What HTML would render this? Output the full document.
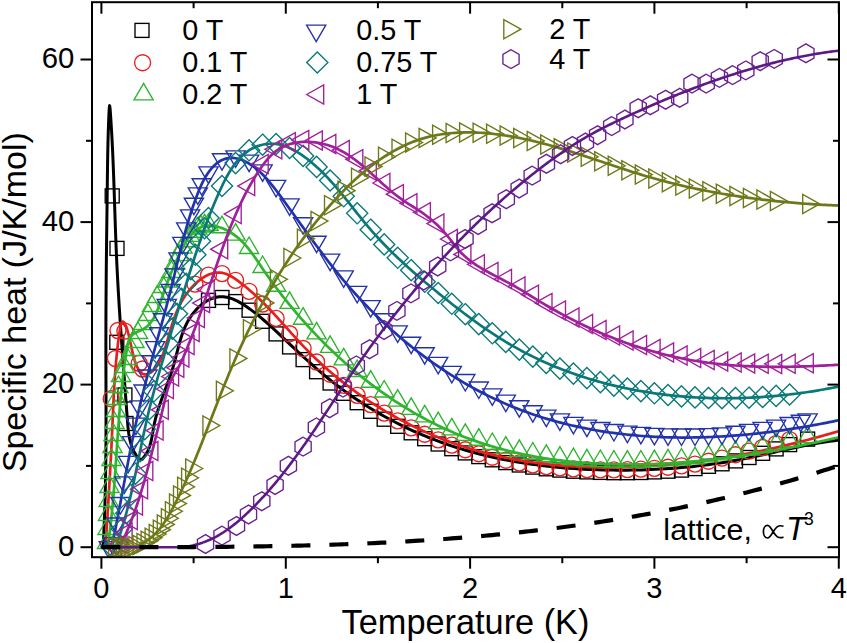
<!DOCTYPE html>
<html><head><meta charset="utf-8"><style>html,body{margin:0;padding:0;background:#fff;}svg{display:block}</style></head>
<body><svg width="847" height="643" viewBox="0 0 847 643">
<rect width="847" height="643" fill="#fff"/>
<defs><clipPath id="pc"><rect x="92" y="2" width="747" height="555"/></clipPath></defs>
<g clip-path="url(#pc)">
<rect x="105.2" y="188.9" width="14.0" height="14.0" fill="none" stroke="#000" stroke-width="1.35"/>
<rect x="110.0" y="241.4" width="14.0" height="14.0" fill="none" stroke="#000" stroke-width="1.35"/>
<rect x="109.8" y="335.3" width="14.0" height="14.0" fill="none" stroke="#000" stroke-width="1.35"/>
<rect x="117.9" y="388.0" width="14.0" height="14.0" fill="none" stroke="#000" stroke-width="1.35"/>
<rect x="119.0" y="416.5" width="14.0" height="14.0" fill="none" stroke="#000" stroke-width="1.35"/>
<rect x="201.5" y="293.4" width="14.0" height="14.0" fill="none" stroke="#000" stroke-width="1.35"/>
<rect x="215.0" y="290.5" width="14.0" height="14.0" fill="none" stroke="#000" stroke-width="1.35"/>
<rect x="228.6" y="294.6" width="14.0" height="14.0" fill="none" stroke="#000" stroke-width="1.35"/>
<rect x="242.1" y="303.2" width="14.0" height="14.0" fill="none" stroke="#000" stroke-width="1.35"/>
<rect x="255.6" y="314.3" width="14.0" height="14.0" fill="none" stroke="#000" stroke-width="1.35"/>
<rect x="269.1" y="326.9" width="14.0" height="14.0" fill="none" stroke="#000" stroke-width="1.35"/>
<rect x="282.6" y="339.9" width="14.0" height="14.0" fill="none" stroke="#000" stroke-width="1.35"/>
<rect x="296.1" y="352.6" width="14.0" height="14.0" fill="none" stroke="#000" stroke-width="1.35"/>
<rect x="309.6" y="364.7" width="14.0" height="14.0" fill="none" stroke="#000" stroke-width="1.35"/>
<rect x="323.1" y="376.0" width="14.0" height="14.0" fill="none" stroke="#000" stroke-width="1.35"/>
<rect x="336.7" y="386.3" width="14.0" height="14.0" fill="none" stroke="#000" stroke-width="1.35"/>
<rect x="350.2" y="395.7" width="14.0" height="14.0" fill="none" stroke="#000" stroke-width="1.35"/>
<rect x="363.7" y="404.3" width="14.0" height="14.0" fill="none" stroke="#000" stroke-width="1.35"/>
<rect x="377.2" y="412.2" width="14.0" height="14.0" fill="none" stroke="#000" stroke-width="1.35"/>
<rect x="390.7" y="419.3" width="14.0" height="14.0" fill="none" stroke="#000" stroke-width="1.35"/>
<rect x="404.2" y="425.8" width="14.0" height="14.0" fill="none" stroke="#000" stroke-width="1.35"/>
<rect x="417.7" y="431.7" width="14.0" height="14.0" fill="none" stroke="#000" stroke-width="1.35"/>
<rect x="431.2" y="437.0" width="14.0" height="14.0" fill="none" stroke="#000" stroke-width="1.35"/>
<rect x="444.8" y="441.7" width="14.0" height="14.0" fill="none" stroke="#000" stroke-width="1.35"/>
<rect x="458.3" y="445.9" width="14.0" height="14.0" fill="none" stroke="#000" stroke-width="1.35"/>
<rect x="471.8" y="449.6" width="14.0" height="14.0" fill="none" stroke="#000" stroke-width="1.35"/>
<rect x="485.3" y="452.8" width="14.0" height="14.0" fill="none" stroke="#000" stroke-width="1.35"/>
<rect x="498.8" y="455.6" width="14.0" height="14.0" fill="none" stroke="#000" stroke-width="1.35"/>
<rect x="512.3" y="458.0" width="14.0" height="14.0" fill="none" stroke="#000" stroke-width="1.35"/>
<rect x="525.8" y="460.1" width="14.0" height="14.0" fill="none" stroke="#000" stroke-width="1.35"/>
<rect x="539.3" y="461.8" width="14.0" height="14.0" fill="none" stroke="#000" stroke-width="1.35"/>
<rect x="552.9" y="463.1" width="14.0" height="14.0" fill="none" stroke="#000" stroke-width="1.35"/>
<rect x="566.4" y="464.2" width="14.0" height="14.0" fill="none" stroke="#000" stroke-width="1.35"/>
<rect x="579.9" y="464.9" width="14.0" height="14.0" fill="none" stroke="#000" stroke-width="1.35"/>
<rect x="593.4" y="465.4" width="14.0" height="14.0" fill="none" stroke="#000" stroke-width="1.35"/>
<rect x="606.9" y="465.7" width="14.0" height="14.0" fill="none" stroke="#000" stroke-width="1.35"/>
<rect x="620.4" y="465.7" width="14.0" height="14.0" fill="none" stroke="#000" stroke-width="1.35"/>
<rect x="633.9" y="465.5" width="14.0" height="14.0" fill="none" stroke="#000" stroke-width="1.35"/>
<rect x="647.4" y="464.9" width="14.0" height="14.0" fill="none" stroke="#000" stroke-width="1.35"/>
<rect x="661.0" y="464.2" width="14.0" height="14.0" fill="none" stroke="#000" stroke-width="1.35"/>
<rect x="674.5" y="463.1" width="14.0" height="14.0" fill="none" stroke="#000" stroke-width="1.35"/>
<rect x="688.0" y="461.6" width="14.0" height="14.0" fill="none" stroke="#000" stroke-width="1.35"/>
<rect x="701.5" y="459.3" width="14.0" height="14.0" fill="none" stroke="#000" stroke-width="1.35"/>
<rect x="715.0" y="456.8" width="14.0" height="14.0" fill="none" stroke="#000" stroke-width="1.35"/>
<rect x="728.5" y="453.9" width="14.0" height="14.0" fill="none" stroke="#000" stroke-width="1.35"/>
<rect x="742.0" y="450.5" width="14.0" height="14.0" fill="none" stroke="#000" stroke-width="1.35"/>
<rect x="755.6" y="446.3" width="14.0" height="14.0" fill="none" stroke="#000" stroke-width="1.35"/>
<rect x="769.1" y="441.9" width="14.0" height="14.0" fill="none" stroke="#000" stroke-width="1.35"/>
<rect x="782.6" y="437.6" width="14.0" height="14.0" fill="none" stroke="#000" stroke-width="1.35"/>
<rect x="800.6" y="432.1" width="14.0" height="14.0" fill="none" stroke="#000" stroke-width="1.35"/>
<path d="M103.07,547.20 L103.33,542.55 L103.58,537.79 L103.81,533.03 L104.02,528.28 L104.23,523.52 L104.42,518.77 L104.59,514.01 L104.76,509.26 L104.91,504.50 L105.05,499.75 L105.17,495.00 L105.29,490.24 L105.40,485.49 L105.49,480.74 L105.58,475.98 L105.65,471.23 L105.72,466.47 L105.78,461.72 L105.83,456.97 L105.88,452.21 L105.92,447.45 L105.95,442.70 L105.97,437.94 L105.99,433.18 L106.01,428.42 L106.02,423.66 L106.02,418.90 L106.02,414.14 L106.02,409.38 L106.02,404.61 L106.01,399.85 L106.00,395.08 L105.99,390.31 L105.98,385.54 L105.97,380.77 L105.95,376.00 L105.94,371.22 L105.93,366.44 L105.92,361.67 L105.91,356.89 L105.90,352.10 L105.90,347.32 L105.89,342.53 L105.90,337.74 L105.90,332.95 L105.91,328.16 L105.92,323.36 L105.94,318.56 L105.96,313.77 L105.98,308.97 L106.01,304.17 L106.04,299.37 L106.07,294.57 L106.11,289.77 L106.15,284.98 L106.19,280.18 L106.23,275.39 L106.28,270.60 L106.32,265.81 L106.37,261.02 L106.42,256.24 L106.48,251.46 L106.53,246.69 L106.59,241.92 L106.64,237.15 L106.70,232.39 L106.76,227.64 L106.82,222.89 L106.88,218.14 L106.94,213.41 L107.00,208.68 L107.06,203.96 L107.12,199.24 L107.18,194.54 L107.24,189.84 L107.29,185.15 L107.35,180.47 L107.41,175.80 L107.47,171.13 L107.53,166.45 L107.60,161.75 L107.67,157.03 L107.76,152.27 L107.86,147.46 L107.97,142.60 L108.10,137.68 L108.25,132.69 L108.41,127.61 L108.60,122.45 L108.82,117.18 L109.06,111.82 L109.34,107.22 L109.67,105.61 L110.05,108.33 L110.44,113.54 L110.81,118.97 L111.13,124.03 L111.43,128.85 L111.71,133.52 L111.96,138.17 L112.21,142.83 L112.44,147.51 L112.66,152.21 L112.87,156.92 L113.07,161.64 L113.26,166.38 L113.45,171.13 L113.63,175.89 L113.80,180.66 L113.97,185.44 L114.13,190.22 L114.29,195.01 L114.45,199.81 L114.61,204.61 L114.77,209.42 L114.93,214.22 L115.09,219.03 L115.25,223.84 L115.42,228.64 L115.59,233.45 L115.77,238.25 L115.96,243.04 L116.15,247.83 L116.35,252.62 L116.56,257.39 L116.77,262.16 L117.00,266.92 L117.24,271.68 L117.48,276.43 L117.74,281.17 L118.00,285.91 L118.27,290.64 L118.55,295.37 L118.83,300.10 L119.12,304.83 L119.42,309.55 L119.72,314.28 L120.03,319.00 L120.35,323.73 L120.67,328.46 L120.99,333.19 L121.32,337.92 L121.66,342.65 L122.00,347.39 L122.34,352.14 L122.68,356.89 L123.03,361.64 L123.38,366.40 L123.74,371.17 L124.09,375.95 L124.45,380.74 L124.81,385.53 L125.17,390.34 L125.53,395.16 L125.89,399.98 L126.26,404.82 L126.62,409.68 L126.98,414.54 L127.34,419.42 L127.73,424.30 L128.19,429.14 L128.81,433.91 L129.62,438.57 L130.70,443.09 L132.10,447.41 L133.90,451.52 L136.14,455.37 L138.89,458.92 L142.24,459.29 L145.57,455.00 L148.08,450.35 L149.89,445.68 L151.17,441.00 L152.10,436.31 L152.88,431.63 L153.68,426.96 L154.64,422.31 L155.77,417.69 L157.05,413.09 L158.45,408.51 L159.95,403.97 L161.53,399.45 L163.18,394.96 L164.85,390.48 L166.53,386.02 L168.19,381.55 L169.81,377.07 L171.36,372.57 L172.81,368.03 L174.14,363.44 L175.38,358.81 L176.56,354.16 L177.74,349.51 L178.95,344.88 L180.25,340.28 L181.67,335.74 L183.26,331.26 L185.07,326.88 L187.14,322.60 L189.52,318.44 L192.24,314.43 L195.33,310.61 L198.74,307.07 L202.43,303.89 L206.36,301.17 L210.48,299.00 L214.75,297.47 L219.13,296.67 L223.58,296.68 L228.06,297.47 L232.54,298.92 L236.98,300.91 L241.35,303.32 L245.61,306.02 L249.74,308.91 L253.70,311.87 L257.51,314.87 L261.20,317.92 L264.79,321.00 L268.30,324.11 L271.77,327.26 L275.21,330.44 L278.65,333.63 L282.09,336.85 L285.52,340.09 L288.96,343.33 L292.41,346.58 L295.86,349.82 L299.33,353.07 L302.82,356.30 L306.32,359.52 L309.85,362.71 L313.40,365.89 L316.99,369.03 L320.60,372.14 L324.25,375.22 L327.93,378.24 L331.66,381.23 L335.42,384.16 L339.22,387.06 L343.05,389.90 L346.92,392.70 L350.82,395.45 L354.76,398.15 L358.73,400.81 L362.73,403.42 L366.76,405.98 L370.83,408.48 L374.92,410.94 L379.04,413.35 L383.19,415.71 L387.37,418.02 L391.58,420.28 L395.81,422.49 L400.07,424.64 L404.35,426.74 L408.66,428.79 L412.99,430.79 L417.34,432.73 L421.72,434.62 L426.12,436.46 L430.53,438.24 L434.97,439.96 L439.43,441.63 L443.90,443.24 L448.39,444.80 L452.90,446.30 L457.43,447.75 L461.97,449.15 L466.52,450.50 L471.10,451.79 L475.68,453.03 L480.28,454.22 L484.90,455.37 L489.53,456.46 L494.17,457.50 L498.82,458.50 L503.48,459.45 L508.15,460.36 L512.84,461.22 L517.53,462.03 L522.24,462.81 L526.95,463.53 L531.67,464.22 L536.40,464.86 L541.13,465.47 L545.87,466.03 L550.62,466.55 L555.37,467.04 L560.13,467.49 L564.90,467.90 L569.66,468.27 L574.43,468.60 L579.21,468.91 L583.98,469.17 L588.76,469.41 L593.54,469.60 L598.32,469.77 L603.10,469.91 L607.88,470.01 L612.66,470.09 L617.44,470.13 L622.21,470.14 L626.99,470.13 L631.76,470.08 L636.53,470.00 L641.30,469.88 L646.07,469.74 L650.84,469.56 L655.60,469.35 L660.36,469.10 L665.12,468.82 L669.87,468.51 L674.62,468.16 L679.37,467.78 L684.11,467.36 L688.85,466.90 L693.59,466.41 L698.32,465.88 L703.05,465.31 L707.77,464.71 L712.49,464.06 L717.20,463.38 L721.91,462.66 L726.61,461.90 L731.31,461.10 L736.00,460.26 L740.69,459.38 L745.37,458.47 L750.04,457.51 L754.71,456.53 L759.38,455.52 L764.05,454.50 L768.71,453.46 L773.37,452.42 L778.03,451.37 L782.70,450.33 L787.36,449.30 L792.03,448.28 L796.70,447.28 L801.37,446.30 L806.05,445.36 L810.74,444.46 L815.43,443.59 L820.13,442.78 L824.83,442.01 L829.55,441.31 L834.27,440.67 L839.01,440.09" fill="none" stroke="#000" stroke-width="3.0" stroke-linejoin="round" stroke-linecap="round"/>
<circle cx="118.0" cy="330.5" r="8.0" fill="none" stroke="#e81e1e" stroke-width="1.35"/>
<circle cx="124.9" cy="331.1" r="8.0" fill="none" stroke="#e81e1e" stroke-width="1.35"/>
<circle cx="115.5" cy="358.5" r="8.0" fill="none" stroke="#e81e1e" stroke-width="1.35"/>
<circle cx="111.2" cy="398.7" r="8.0" fill="none" stroke="#e81e1e" stroke-width="1.35"/>
<circle cx="139.2" cy="363.4" r="8.0" fill="none" stroke="#e81e1e" stroke-width="1.35"/>
<circle cx="142.5" cy="369.0" r="8.0" fill="none" stroke="#e81e1e" stroke-width="1.35"/>
<circle cx="195.0" cy="284.1" r="8.0" fill="none" stroke="#e81e1e" stroke-width="1.35"/>
<circle cx="208.5" cy="275.1" r="8.0" fill="none" stroke="#e81e1e" stroke-width="1.35"/>
<circle cx="222.0" cy="273.6" r="8.0" fill="none" stroke="#e81e1e" stroke-width="1.35"/>
<circle cx="235.6" cy="280.3" r="8.0" fill="none" stroke="#e81e1e" stroke-width="1.35"/>
<circle cx="249.1" cy="291.3" r="8.0" fill="none" stroke="#e81e1e" stroke-width="1.35"/>
<circle cx="262.6" cy="304.0" r="8.0" fill="none" stroke="#e81e1e" stroke-width="1.35"/>
<circle cx="276.1" cy="318.4" r="8.0" fill="none" stroke="#e81e1e" stroke-width="1.35"/>
<circle cx="289.6" cy="333.7" r="8.0" fill="none" stroke="#e81e1e" stroke-width="1.35"/>
<circle cx="303.1" cy="348.5" r="8.0" fill="none" stroke="#e81e1e" stroke-width="1.35"/>
<circle cx="316.6" cy="362.0" r="8.0" fill="none" stroke="#e81e1e" stroke-width="1.35"/>
<circle cx="330.1" cy="374.2" r="8.0" fill="none" stroke="#e81e1e" stroke-width="1.35"/>
<circle cx="343.7" cy="385.3" r="8.0" fill="none" stroke="#e81e1e" stroke-width="1.35"/>
<circle cx="357.2" cy="395.4" r="8.0" fill="none" stroke="#e81e1e" stroke-width="1.35"/>
<circle cx="370.7" cy="404.6" r="8.0" fill="none" stroke="#e81e1e" stroke-width="1.35"/>
<circle cx="384.2" cy="413.1" r="8.0" fill="none" stroke="#e81e1e" stroke-width="1.35"/>
<circle cx="397.7" cy="420.8" r="8.0" fill="none" stroke="#e81e1e" stroke-width="1.35"/>
<circle cx="411.2" cy="427.8" r="8.0" fill="none" stroke="#e81e1e" stroke-width="1.35"/>
<circle cx="424.7" cy="434.2" r="8.0" fill="none" stroke="#e81e1e" stroke-width="1.35"/>
<circle cx="438.2" cy="439.9" r="8.0" fill="none" stroke="#e81e1e" stroke-width="1.35"/>
<circle cx="451.8" cy="445.1" r="8.0" fill="none" stroke="#e81e1e" stroke-width="1.35"/>
<circle cx="465.3" cy="449.7" r="8.0" fill="none" stroke="#e81e1e" stroke-width="1.35"/>
<circle cx="478.8" cy="453.7" r="8.0" fill="none" stroke="#e81e1e" stroke-width="1.35"/>
<circle cx="492.3" cy="457.2" r="8.0" fill="none" stroke="#e81e1e" stroke-width="1.35"/>
<circle cx="505.8" cy="460.2" r="8.0" fill="none" stroke="#e81e1e" stroke-width="1.35"/>
<circle cx="519.3" cy="462.8" r="8.0" fill="none" stroke="#e81e1e" stroke-width="1.35"/>
<circle cx="532.8" cy="464.9" r="8.0" fill="none" stroke="#e81e1e" stroke-width="1.35"/>
<circle cx="546.3" cy="466.6" r="8.0" fill="none" stroke="#e81e1e" stroke-width="1.35"/>
<circle cx="559.9" cy="467.9" r="8.0" fill="none" stroke="#e81e1e" stroke-width="1.35"/>
<circle cx="573.4" cy="468.9" r="8.0" fill="none" stroke="#e81e1e" stroke-width="1.35"/>
<circle cx="586.9" cy="469.6" r="8.0" fill="none" stroke="#e81e1e" stroke-width="1.35"/>
<circle cx="600.4" cy="469.9" r="8.0" fill="none" stroke="#e81e1e" stroke-width="1.35"/>
<circle cx="613.9" cy="469.9" r="8.0" fill="none" stroke="#e81e1e" stroke-width="1.35"/>
<circle cx="627.4" cy="469.6" r="8.0" fill="none" stroke="#e81e1e" stroke-width="1.35"/>
<circle cx="640.9" cy="469.1" r="8.0" fill="none" stroke="#e81e1e" stroke-width="1.35"/>
<circle cx="654.4" cy="468.3" r="8.0" fill="none" stroke="#e81e1e" stroke-width="1.35"/>
<circle cx="668.0" cy="467.2" r="8.0" fill="none" stroke="#e81e1e" stroke-width="1.35"/>
<circle cx="681.5" cy="465.9" r="8.0" fill="none" stroke="#e81e1e" stroke-width="1.35"/>
<circle cx="695.0" cy="464.1" r="8.0" fill="none" stroke="#e81e1e" stroke-width="1.35"/>
<circle cx="708.5" cy="461.2" r="8.0" fill="none" stroke="#e81e1e" stroke-width="1.35"/>
<circle cx="722.0" cy="458.1" r="8.0" fill="none" stroke="#e81e1e" stroke-width="1.35"/>
<circle cx="735.5" cy="454.7" r="8.0" fill="none" stroke="#e81e1e" stroke-width="1.35"/>
<circle cx="749.0" cy="451.1" r="8.0" fill="none" stroke="#e81e1e" stroke-width="1.35"/>
<circle cx="762.6" cy="447.5" r="8.0" fill="none" stroke="#e81e1e" stroke-width="1.35"/>
<circle cx="776.1" cy="443.7" r="8.0" fill="none" stroke="#e81e1e" stroke-width="1.35"/>
<circle cx="789.6" cy="439.6" r="8.0" fill="none" stroke="#e81e1e" stroke-width="1.35"/>
<path d="M105.59,546.98 L105.78,543.83 L105.97,540.69 L106.17,537.54 L106.36,534.38 L106.56,531.22 L106.75,528.05 L106.94,524.88 L107.14,521.71 L107.33,518.53 L107.53,515.35 L107.72,512.16 L107.92,508.98 L108.11,505.79 L108.31,502.60 L108.50,499.40 L108.69,496.21 L108.88,493.01 L109.07,489.82 L109.26,486.62 L109.44,483.42 L109.63,480.22 L109.81,477.02 L109.99,473.82 L110.17,470.63 L110.35,467.43 L110.52,464.23 L110.69,461.04 L110.86,457.85 L111.03,454.65 L111.20,451.47 L111.36,448.28 L111.52,445.10 L111.67,441.92 L111.83,438.74 L111.97,435.57 L112.12,432.40 L112.26,429.23 L112.40,426.07 L112.54,422.91 L112.67,419.76 L112.81,416.61 L112.94,413.45 L113.08,410.30 L113.22,407.15 L113.36,403.99 L113.51,400.83 L113.66,397.67 L113.82,394.51 L113.99,391.34 L114.16,388.16 L114.35,384.97 L114.55,381.78 L114.76,378.58 L114.98,375.37 L115.21,372.15 L115.46,368.92 L115.73,365.68 L116.01,362.42 L116.31,359.15 L116.63,355.87 L116.97,352.57 L117.33,349.25 L117.71,345.92 L118.12,342.56 L118.55,339.19 L119.00,335.80 L119.49,332.39 L120.00,329.06 L120.58,326.05 L121.24,323.62 L122.01,322.03 L122.91,321.54 L123.94,322.27 L125.03,323.97 L126.09,326.30 L127.06,329.01 L127.94,332.01 L128.76,335.26 L129.55,338.69 L130.32,342.27 L131.10,345.94 L131.92,349.66 L132.78,353.37 L133.73,357.03 L134.77,360.58 L135.94,363.98 L137.25,367.09 L138.71,369.82 L140.33,372.04 L142.14,373.63 L144.14,374.47 L146.36,374.46 L148.72,373.63 L151.12,372.14 L153.45,370.14 L155.59,367.81 L157.50,365.25 L159.19,362.49 L160.70,359.58 L162.04,356.55 L163.25,353.42 L164.36,350.25 L165.38,347.05 L166.36,343.88 L167.31,340.72 L168.22,337.60 L169.13,334.50 L170.03,331.43 L170.94,328.38 L171.86,325.37 L172.81,322.39 L173.81,319.43 L174.85,316.51 L175.95,313.62 L177.12,310.76 L178.37,307.93 L179.71,305.14 L181.15,302.38 L182.71,299.65 L184.39,296.96 L186.20,294.31 L188.16,291.69 L190.26,289.12 L192.51,286.60 L194.89,284.19 L197.39,281.91 L199.99,279.80 L202.68,277.89 L205.44,276.22 L208.26,274.81 L211.13,273.70 L214.03,272.93 L216.95,272.53 L219.87,272.53 L222.79,272.96 L225.69,273.81 L228.56,275.00 L231.40,276.49 L234.20,278.21 L236.95,280.11 L239.65,282.12 L242.29,284.19 L244.86,286.26 L247.37,288.33 L249.83,290.41 L252.23,292.50 L254.59,294.60 L256.91,296.72 L259.20,298.86 L261.46,301.03 L263.69,303.23 L265.91,305.46 L268.11,307.71 L270.30,309.99 L272.47,312.29 L274.63,314.61 L276.77,316.95 L278.92,319.30 L281.05,321.66 L283.18,324.03 L285.31,326.40 L287.44,328.78 L289.57,331.16 L291.71,333.54 L293.85,335.92 L296.00,338.28 L298.16,340.64 L300.33,342.99 L302.52,345.32 L304.72,347.64 L306.94,349.93 L309.18,352.21 L311.44,354.46 L313.72,356.70 L316.01,358.91 L318.33,361.10 L320.66,363.27 L323.01,365.42 L325.38,367.54 L327.77,369.65 L330.17,371.74 L332.59,373.80 L335.03,375.84 L337.49,377.87 L339.96,379.87 L342.45,381.85 L344.96,383.81 L347.48,385.75 L350.02,387.67 L352.58,389.57 L355.15,391.45 L357.73,393.30 L360.33,395.14 L362.95,396.95 L365.58,398.75 L368.22,400.52 L370.88,402.27 L373.56,404.00 L376.24,405.71 L378.95,407.39 L381.66,409.06 L384.39,410.70 L387.13,412.32 L389.89,413.92 L392.66,415.49 L395.44,417.04 L398.23,418.57 L401.04,420.08 L403.86,421.57 L406.68,423.03 L409.53,424.47 L412.38,425.88 L415.24,427.27 L418.12,428.64 L421.01,429.99 L423.90,431.31 L426.81,432.61 L429.73,433.88 L432.66,435.13 L435.60,436.35 L438.54,437.55 L441.50,438.73 L444.47,439.88 L447.44,441.01 L450.43,442.11 L453.42,443.19 L456.42,444.24 L459.44,445.27 L462.45,446.27 L465.48,447.25 L468.52,448.20 L471.56,449.13 L474.61,450.03 L477.67,450.91 L480.73,451.75 L483.80,452.58 L486.88,453.38 L489.96,454.15 L493.05,454.90 L496.15,455.63 L499.25,456.33 L502.36,457.01 L505.48,457.66 L508.60,458.29 L511.72,458.90 L514.85,459.49 L517.98,460.05 L521.12,460.59 L524.27,461.11 L527.42,461.60 L530.57,462.07 L533.72,462.52 L536.88,462.95 L540.05,463.36 L543.22,463.75 L546.39,464.12 L549.56,464.46 L552.74,464.79 L555.92,465.10 L559.10,465.38 L562.28,465.65 L565.47,465.90 L568.66,466.12 L571.85,466.33 L575.04,466.52 L578.23,466.69 L581.42,466.84 L584.62,466.98 L587.82,467.09 L591.01,467.19 L594.21,467.27 L597.41,467.34 L600.61,467.39 L603.81,467.41 L607.00,467.43 L610.20,467.42 L613.40,467.41 L616.60,467.37 L619.79,467.32 L622.99,467.25 L626.18,467.17 L629.37,467.07 L632.56,466.96 L635.75,466.83 L638.94,466.69 L642.12,466.54 L645.30,466.37 L648.48,466.18 L651.66,465.98 L654.83,465.77 L658.01,465.55 L661.18,465.31 L664.35,465.05 L667.52,464.79 L670.68,464.51 L673.84,464.21 L677.00,463.90 L680.16,463.58 L683.32,463.25 L686.48,462.90 L689.63,462.54 L692.78,462.17 L695.93,461.78 L699.08,461.38 L702.22,460.97 L705.37,460.54 L708.51,460.10 L711.65,459.65 L714.79,459.19 L717.92,458.71 L721.06,458.22 L724.19,457.72 L727.32,457.21 L730.45,456.68 L733.58,456.14 L736.71,455.59 L739.83,455.03 L742.96,454.45 L746.08,453.86 L749.20,453.27 L752.32,452.66 L755.43,452.03 L758.55,451.40 L761.66,450.75 L764.78,450.09 L767.89,449.43 L771.00,448.75 L774.10,448.05 L777.21,447.35 L780.32,446.64 L783.42,445.91 L786.52,445.17 L789.63,444.43 L792.73,443.67 L795.83,442.90 L798.92,442.12 L802.02,441.33 L805.12,440.52 L808.21,439.71 L811.30,438.89 L814.40,438.05 L817.49,437.21 L820.58,436.35 L823.67,435.49 L826.75,434.61 L829.84,433.73 L832.93,432.83 L836.01,431.93 L839.09,431.01" fill="none" stroke="#e81e1e" stroke-width="2.7" stroke-linejoin="round" stroke-linecap="round"/>
<polygon points="163.0,276.0 172.6,292.5 153.4,292.5" fill="none" stroke="#2eb42e" stroke-width="1.35" stroke-linejoin="miter"/>
<polygon points="157.0,286.0 166.6,302.5 147.4,302.5" fill="none" stroke="#2eb42e" stroke-width="1.35" stroke-linejoin="miter"/>
<polygon points="152.0,295.0 161.6,311.5 142.4,311.5" fill="none" stroke="#2eb42e" stroke-width="1.35" stroke-linejoin="miter"/>
<polygon points="148.0,304.0 157.6,320.5 138.4,320.5" fill="none" stroke="#2eb42e" stroke-width="1.35" stroke-linejoin="miter"/>
<polygon points="143.0,313.0 152.6,329.5 133.4,329.5" fill="none" stroke="#2eb42e" stroke-width="1.35" stroke-linejoin="miter"/>
<polygon points="138.0,322.0 147.6,338.5 128.4,338.5" fill="none" stroke="#2eb42e" stroke-width="1.35" stroke-linejoin="miter"/>
<polygon points="134.5,331.0 144.1,347.5 124.9,347.5" fill="none" stroke="#2eb42e" stroke-width="1.35" stroke-linejoin="miter"/>
<polygon points="131.5,339.0 141.1,355.5 121.9,355.5" fill="none" stroke="#2eb42e" stroke-width="1.35" stroke-linejoin="miter"/>
<polygon points="127.5,348.0 137.1,364.5 117.9,364.5" fill="none" stroke="#2eb42e" stroke-width="1.35" stroke-linejoin="miter"/>
<polygon points="124.5,356.0 134.1,372.5 114.9,372.5" fill="none" stroke="#2eb42e" stroke-width="1.35" stroke-linejoin="miter"/>
<polygon points="121.0,365.0 130.6,381.5 111.4,381.5" fill="none" stroke="#2eb42e" stroke-width="1.35" stroke-linejoin="miter"/>
<polygon points="118.5,376.0 128.1,392.5 108.9,392.5" fill="none" stroke="#2eb42e" stroke-width="1.35" stroke-linejoin="miter"/>
<polygon points="116.5,388.0 126.1,404.5 106.9,404.5" fill="none" stroke="#2eb42e" stroke-width="1.35" stroke-linejoin="miter"/>
<polygon points="116.0,400.0 125.6,416.5 106.4,416.5" fill="none" stroke="#2eb42e" stroke-width="1.35" stroke-linejoin="miter"/>
<polygon points="114.5,412.0 124.1,428.5 104.9,428.5" fill="none" stroke="#2eb42e" stroke-width="1.35" stroke-linejoin="miter"/>
<polygon points="113.5,424.0 123.1,440.5 103.9,440.5" fill="none" stroke="#2eb42e" stroke-width="1.35" stroke-linejoin="miter"/>
<polygon points="112.5,436.0 122.1,452.5 102.9,452.5" fill="none" stroke="#2eb42e" stroke-width="1.35" stroke-linejoin="miter"/>
<polygon points="111.5,449.0 121.1,465.5 101.9,465.5" fill="none" stroke="#2eb42e" stroke-width="1.35" stroke-linejoin="miter"/>
<polygon points="110.5,462.0 120.1,478.5 100.9,478.5" fill="none" stroke="#2eb42e" stroke-width="1.35" stroke-linejoin="miter"/>
<polygon points="109.5,476.0 119.1,492.5 99.9,492.5" fill="none" stroke="#2eb42e" stroke-width="1.35" stroke-linejoin="miter"/>
<polygon points="108.7,490.0 118.3,506.5 99.1,506.5" fill="none" stroke="#2eb42e" stroke-width="1.35" stroke-linejoin="miter"/>
<polygon points="108.0,504.0 117.6,520.5 98.4,520.5" fill="none" stroke="#2eb42e" stroke-width="1.35" stroke-linejoin="miter"/>
<polygon points="107.5,518.0 117.1,534.5 97.9,534.5" fill="none" stroke="#2eb42e" stroke-width="1.35" stroke-linejoin="miter"/>
<polygon points="107.0,532.0 116.6,548.5 97.4,548.5" fill="none" stroke="#2eb42e" stroke-width="1.35" stroke-linejoin="miter"/>
<polygon points="167.8,270.5 177.4,287.0 158.2,287.0" fill="none" stroke="#2eb42e" stroke-width="1.35" stroke-linejoin="miter"/>
<polygon points="171.5,261.0 181.1,277.5 161.9,277.5" fill="none" stroke="#2eb42e" stroke-width="1.35" stroke-linejoin="miter"/>
<polygon points="175.1,252.2 184.7,268.7 165.5,268.7" fill="none" stroke="#2eb42e" stroke-width="1.35" stroke-linejoin="miter"/>
<polygon points="178.8,244.1 188.4,260.6 169.2,260.6" fill="none" stroke="#2eb42e" stroke-width="1.35" stroke-linejoin="miter"/>
<polygon points="182.5,236.6 192.1,253.1 172.9,253.1" fill="none" stroke="#2eb42e" stroke-width="1.35" stroke-linejoin="miter"/>
<polygon points="186.2,230.2 195.8,246.7 176.6,246.7" fill="none" stroke="#2eb42e" stroke-width="1.35" stroke-linejoin="miter"/>
<polygon points="189.9,224.9 199.5,241.4 180.3,241.4" fill="none" stroke="#2eb42e" stroke-width="1.35" stroke-linejoin="miter"/>
<polygon points="193.6,220.7 203.2,237.2 184.0,237.2" fill="none" stroke="#2eb42e" stroke-width="1.35" stroke-linejoin="miter"/>
<polygon points="197.3,217.6 206.9,234.1 187.7,234.1" fill="none" stroke="#2eb42e" stroke-width="1.35" stroke-linejoin="miter"/>
<polygon points="200.9,215.5 210.5,232.0 191.3,232.0" fill="none" stroke="#2eb42e" stroke-width="1.35" stroke-linejoin="miter"/>
<polygon points="204.6,214.3 214.2,230.8 195.0,230.8" fill="none" stroke="#2eb42e" stroke-width="1.35" stroke-linejoin="miter"/>
<polygon points="208.5,213.7 218.1,230.2 198.9,230.2" fill="none" stroke="#2eb42e" stroke-width="1.35" stroke-linejoin="miter"/>
<polygon points="222.0,216.2 231.6,232.7 212.4,232.7" fill="none" stroke="#2eb42e" stroke-width="1.35" stroke-linejoin="miter"/>
<polygon points="235.6,223.6 245.2,240.1 226.0,240.1" fill="none" stroke="#2eb42e" stroke-width="1.35" stroke-linejoin="miter"/>
<polygon points="249.1,237.0 258.7,253.5 239.5,253.5" fill="none" stroke="#2eb42e" stroke-width="1.35" stroke-linejoin="miter"/>
<polygon points="262.6,256.0 272.2,272.5 253.0,272.5" fill="none" stroke="#2eb42e" stroke-width="1.35" stroke-linejoin="miter"/>
<polygon points="276.1,274.7 285.7,291.2 266.5,291.2" fill="none" stroke="#2eb42e" stroke-width="1.35" stroke-linejoin="miter"/>
<polygon points="289.6,291.8 299.2,308.3 280.0,308.3" fill="none" stroke="#2eb42e" stroke-width="1.35" stroke-linejoin="miter"/>
<polygon points="303.1,307.7 312.7,324.2 293.5,324.2" fill="none" stroke="#2eb42e" stroke-width="1.35" stroke-linejoin="miter"/>
<polygon points="316.6,322.4 326.2,338.9 307.0,338.9" fill="none" stroke="#2eb42e" stroke-width="1.35" stroke-linejoin="miter"/>
<polygon points="330.1,335.9 339.7,352.4 320.5,352.4" fill="none" stroke="#2eb42e" stroke-width="1.35" stroke-linejoin="miter"/>
<polygon points="343.7,348.4 353.3,364.9 334.1,364.9" fill="none" stroke="#2eb42e" stroke-width="1.35" stroke-linejoin="miter"/>
<polygon points="357.2,360.0 366.8,376.5 347.6,376.5" fill="none" stroke="#2eb42e" stroke-width="1.35" stroke-linejoin="miter"/>
<polygon points="370.7,370.7 380.3,387.2 361.1,387.2" fill="none" stroke="#2eb42e" stroke-width="1.35" stroke-linejoin="miter"/>
<polygon points="384.2,380.5 393.8,397.0 374.6,397.0" fill="none" stroke="#2eb42e" stroke-width="1.35" stroke-linejoin="miter"/>
<polygon points="397.7,389.6 407.3,406.1 388.1,406.1" fill="none" stroke="#2eb42e" stroke-width="1.35" stroke-linejoin="miter"/>
<polygon points="411.2,397.8 420.8,414.3 401.6,414.3" fill="none" stroke="#2eb42e" stroke-width="1.35" stroke-linejoin="miter"/>
<polygon points="424.7,405.4 434.3,421.9 415.1,421.9" fill="none" stroke="#2eb42e" stroke-width="1.35" stroke-linejoin="miter"/>
<polygon points="438.2,412.2 447.8,428.7 428.6,428.7" fill="none" stroke="#2eb42e" stroke-width="1.35" stroke-linejoin="miter"/>
<polygon points="451.8,418.4 461.4,434.9 442.2,434.9" fill="none" stroke="#2eb42e" stroke-width="1.35" stroke-linejoin="miter"/>
<polygon points="465.3,423.9 474.9,440.4 455.7,440.4" fill="none" stroke="#2eb42e" stroke-width="1.35" stroke-linejoin="miter"/>
<polygon points="478.8,428.7 488.4,445.2 469.2,445.2" fill="none" stroke="#2eb42e" stroke-width="1.35" stroke-linejoin="miter"/>
<polygon points="492.3,433.0 501.9,449.5 482.7,449.5" fill="none" stroke="#2eb42e" stroke-width="1.35" stroke-linejoin="miter"/>
<polygon points="505.8,436.6 515.4,453.1 496.2,453.1" fill="none" stroke="#2eb42e" stroke-width="1.35" stroke-linejoin="miter"/>
<polygon points="519.3,439.8 528.9,456.3 509.7,456.3" fill="none" stroke="#2eb42e" stroke-width="1.35" stroke-linejoin="miter"/>
<polygon points="532.8,442.5 542.4,459.0 523.2,459.0" fill="none" stroke="#2eb42e" stroke-width="1.35" stroke-linejoin="miter"/>
<polygon points="546.3,444.8 555.9,461.3 536.7,461.3" fill="none" stroke="#2eb42e" stroke-width="1.35" stroke-linejoin="miter"/>
<polygon points="559.9,446.7 569.5,463.2 550.3,463.2" fill="none" stroke="#2eb42e" stroke-width="1.35" stroke-linejoin="miter"/>
<polygon points="573.4,448.2 583.0,464.7 563.8,464.7" fill="none" stroke="#2eb42e" stroke-width="1.35" stroke-linejoin="miter"/>
<polygon points="586.9,449.3 596.5,465.8 577.3,465.8" fill="none" stroke="#2eb42e" stroke-width="1.35" stroke-linejoin="miter"/>
<polygon points="600.4,450.0 610.0,466.5 590.8,466.5" fill="none" stroke="#2eb42e" stroke-width="1.35" stroke-linejoin="miter"/>
<polygon points="613.9,450.5 623.5,467.0 604.3,467.0" fill="none" stroke="#2eb42e" stroke-width="1.35" stroke-linejoin="miter"/>
<polygon points="627.4,450.6 637.0,467.1 617.8,467.1" fill="none" stroke="#2eb42e" stroke-width="1.35" stroke-linejoin="miter"/>
<polygon points="640.9,450.5 650.5,467.0 631.3,467.0" fill="none" stroke="#2eb42e" stroke-width="1.35" stroke-linejoin="miter"/>
<polygon points="654.4,450.1 664.0,466.6 644.8,466.6" fill="none" stroke="#2eb42e" stroke-width="1.35" stroke-linejoin="miter"/>
<polygon points="668.0,449.4 677.6,465.9 658.4,465.9" fill="none" stroke="#2eb42e" stroke-width="1.35" stroke-linejoin="miter"/>
<polygon points="681.5,448.5 691.1,465.0 671.9,465.0" fill="none" stroke="#2eb42e" stroke-width="1.35" stroke-linejoin="miter"/>
<polygon points="695.0,447.2 704.6,463.7 685.4,463.7" fill="none" stroke="#2eb42e" stroke-width="1.35" stroke-linejoin="miter"/>
<polygon points="708.5,445.3 718.1,461.8 698.9,461.8" fill="none" stroke="#2eb42e" stroke-width="1.35" stroke-linejoin="miter"/>
<polygon points="722.0,443.3 731.6,459.8 712.4,459.8" fill="none" stroke="#2eb42e" stroke-width="1.35" stroke-linejoin="miter"/>
<polygon points="735.5,441.1 745.1,457.6 725.9,457.6" fill="none" stroke="#2eb42e" stroke-width="1.35" stroke-linejoin="miter"/>
<polygon points="749.0,438.6 758.6,455.1 739.4,455.1" fill="none" stroke="#2eb42e" stroke-width="1.35" stroke-linejoin="miter"/>
<polygon points="762.6,436.0 772.2,452.5 753.0,452.5" fill="none" stroke="#2eb42e" stroke-width="1.35" stroke-linejoin="miter"/>
<polygon points="776.1,433.2 785.7,449.7 766.5,449.7" fill="none" stroke="#2eb42e" stroke-width="1.35" stroke-linejoin="miter"/>
<polygon points="789.6,430.3 799.2,446.8 780.0,446.8" fill="none" stroke="#2eb42e" stroke-width="1.35" stroke-linejoin="miter"/>
<polygon points="807.6,426.1 817.2,442.6 798.0,442.6" fill="none" stroke="#2eb42e" stroke-width="1.35" stroke-linejoin="miter"/>
<path d="M107.68,547.13 L108.12,544.09 L108.55,541.04 L108.96,537.99 L109.36,534.94 L109.74,531.89 L110.11,528.84 L110.47,525.78 L110.82,522.73 L111.15,519.67 L111.47,516.62 L111.79,513.56 L112.09,510.50 L112.38,507.45 L112.66,504.39 L112.94,501.33 L113.20,498.27 L113.46,495.21 L113.71,492.15 L113.96,489.08 L114.20,486.02 L114.43,482.96 L114.66,479.89 L114.88,476.83 L115.10,473.76 L115.32,470.70 L115.53,467.63 L115.75,464.57 L115.95,461.50 L116.16,458.43 L116.37,455.37 L116.58,452.30 L116.78,449.23 L116.99,446.16 L117.20,443.10 L117.41,440.03 L117.62,436.96 L117.84,433.89 L118.06,430.82 L118.28,427.75 L118.50,424.68 L118.74,421.61 L118.97,418.54 L119.22,415.47 L119.46,412.40 L119.72,409.34 L119.98,406.27 L120.26,403.20 L120.53,400.13 L120.82,397.06 L121.12,393.99 L121.43,390.92 L121.75,387.85 L122.08,384.78 L122.42,381.71 L122.77,378.65 L123.14,375.58 L123.52,372.51 L123.91,369.44 L124.32,366.38 L124.74,363.31 L125.17,360.24 L125.63,357.18 L126.10,354.11 L126.58,351.05 L127.08,347.98 L127.62,344.93 L128.30,341.98 L129.24,339.24 L130.57,336.79 L132.41,334.76 L134.82,333.16 L137.60,331.83 L140.51,330.57 L143.32,329.15 L145.86,327.43 L148.14,325.44 L150.18,323.19 L152.00,320.73 L153.64,318.10 L155.11,315.32 L156.45,312.43 L157.68,309.48 L158.82,306.48 L159.90,303.48 L160.95,300.52 L161.97,297.60 L162.99,294.73 L164.00,291.90 L165.01,289.10 L166.03,286.33 L167.05,283.57 L168.08,280.82 L169.14,278.08 L170.21,275.34 L171.31,272.59 L172.45,269.83 L173.62,267.04 L174.84,264.22 L176.10,261.37 L177.41,258.47 L178.79,255.53 L180.22,252.55 L181.72,249.55 L183.30,246.59 L184.96,243.68 L186.70,240.87 L188.55,238.19 L190.49,235.67 L192.54,233.36 L194.70,231.28 L196.98,229.47 L199.39,227.97 L201.93,226.81 L204.61,226.02 L207.41,225.61 L210.32,225.56 L213.30,225.83 L216.31,226.40 L219.33,227.23 L222.33,228.30 L225.27,229.56 L228.12,231.01 L230.85,232.60 L233.45,234.30 L235.92,236.13 L238.28,238.05 L240.53,240.08 L242.69,242.19 L244.75,244.38 L246.74,246.65 L248.66,248.98 L250.53,251.36 L252.34,253.79 L254.12,256.26 L255.87,258.76 L257.60,261.29 L259.31,263.82 L261.03,266.37 L262.76,268.91 L264.50,271.44 L266.26,273.97 L268.03,276.49 L269.82,279.00 L271.63,281.50 L273.45,283.99 L275.28,286.47 L277.14,288.94 L279.00,291.41 L280.88,293.86 L282.78,296.30 L284.69,298.74 L286.62,301.16 L288.56,303.57 L290.52,305.97 L292.49,308.36 L294.48,310.74 L296.48,313.11 L298.50,315.47 L300.53,317.81 L302.57,320.15 L304.63,322.47 L306.71,324.77 L308.80,327.07 L310.90,329.35 L313.01,331.62 L315.14,333.88 L317.29,336.12 L319.45,338.35 L321.62,340.57 L323.80,342.77 L326.00,344.96 L328.21,347.13 L330.44,349.29 L332.68,351.44 L334.93,353.56 L337.20,355.68 L339.48,357.78 L341.77,359.86 L344.08,361.93 L346.39,363.98 L348.73,366.01 L351.07,368.03 L353.43,370.03 L355.80,372.02 L358.18,373.98 L360.57,375.93 L362.98,377.87 L365.40,379.78 L367.83,381.68 L370.27,383.56 L372.73,385.42 L375.20,387.26 L377.68,389.09 L380.17,390.89 L382.67,392.68 L385.19,394.45 L387.71,396.19 L390.25,397.92 L392.80,399.63 L395.37,401.32 L397.94,402.99 L400.52,404.63 L403.12,406.26 L405.73,407.86 L408.34,409.45 L410.97,411.01 L413.61,412.55 L416.26,414.08 L418.92,415.57 L421.60,417.05 L424.28,418.50 L426.97,419.93 L429.68,421.34 L432.39,422.73 L435.12,424.09 L437.85,425.43 L440.60,426.75 L443.35,428.04 L446.12,429.31 L448.89,430.55 L451.68,431.77 L454.47,432.97 L457.28,434.14 L460.09,435.28 L462.92,436.41 L465.75,437.50 L468.59,438.57 L471.45,439.62 L474.31,440.64 L477.18,441.64 L480.06,442.61 L482.94,443.56 L485.84,444.49 L488.74,445.39 L491.65,446.27 L494.57,447.13 L497.50,447.96 L500.44,448.77 L503.38,449.56 L506.33,450.32 L509.29,451.06 L512.25,451.78 L515.22,452.48 L518.20,453.16 L521.18,453.82 L524.17,454.45 L527.17,455.06 L530.17,455.65 L533.18,456.22 L536.20,456.77 L539.22,457.30 L542.24,457.81 L545.27,458.30 L548.31,458.77 L551.35,459.22 L554.40,459.64 L557.45,460.05 L560.50,460.44 L563.56,460.81 L566.63,461.17 L569.70,461.50 L572.77,461.81 L575.84,462.11 L578.92,462.39 L582.01,462.65 L585.09,462.89 L588.18,463.11 L591.27,463.32 L594.37,463.51 L597.47,463.68 L600.57,463.83 L603.67,463.97 L606.78,464.09 L609.88,464.19 L612.99,464.28 L616.11,464.35 L619.22,464.41 L622.33,464.45 L625.45,464.47 L628.57,464.48 L631.68,464.47 L634.80,464.45 L637.92,464.41 L641.04,464.36 L644.16,464.30 L647.28,464.21 L650.40,464.12 L653.52,464.01 L656.65,463.89 L659.77,463.75 L662.89,463.60 L666.00,463.43 L669.12,463.26 L672.24,463.07 L675.36,462.86 L678.47,462.65 L681.59,462.42 L684.70,462.18 L687.81,461.92 L690.92,461.66 L694.02,461.38 L697.13,461.09 L700.23,460.79 L703.33,460.48 L706.43,460.16 L709.52,459.82 L712.61,459.48 L715.70,459.12 L718.78,458.76 L721.87,458.38 L724.94,458.00 L728.02,457.60 L731.09,457.20 L734.15,456.78 L737.22,456.36 L740.27,455.92 L743.33,455.48 L746.38,455.03 L749.42,454.57 L752.46,454.10 L755.49,453.62 L758.52,453.13 L761.54,452.64 L764.56,452.14 L767.57,451.63 L770.58,451.11 L773.58,450.59 L776.57,450.06 L779.56,449.52 L782.54,448.98 L785.52,448.42 L788.48,447.87 L791.45,447.30 L794.40,446.73 L797.35,446.16 L800.29,445.57 L803.22,444.99 L806.14,444.39 L809.06,443.80 L811.96,443.19 L814.86,442.58 L817.76,441.97 L820.64,441.35 L823.51,440.73 L826.38,440.11 L829.24,439.48 L832.08,438.84 L834.92,438.21 L837.75,437.57" fill="none" stroke="#2eb42e" stroke-width="2.7" stroke-linejoin="round" stroke-linecap="round"/>
<polygon points="108.8,558.1 118.4,541.6 99.2,541.6" fill="none" stroke="#2232aa" stroke-width="1.35" stroke-linejoin="miter"/>
<polygon points="112.6,554.1 122.2,537.6 103.0,537.6" fill="none" stroke="#2232aa" stroke-width="1.35" stroke-linejoin="miter"/>
<polygon points="116.5,534.5 126.1,518.0 106.9,518.0" fill="none" stroke="#2232aa" stroke-width="1.35" stroke-linejoin="miter"/>
<polygon points="120.4,514.0 130.0,497.5 110.8,497.5" fill="none" stroke="#2232aa" stroke-width="1.35" stroke-linejoin="miter"/>
<polygon points="124.3,493.3 133.9,476.8 114.7,476.8" fill="none" stroke="#2232aa" stroke-width="1.35" stroke-linejoin="miter"/>
<polygon points="128.1,472.8 137.7,456.3 118.5,456.3" fill="none" stroke="#2232aa" stroke-width="1.35" stroke-linejoin="miter"/>
<polygon points="132.0,453.1 141.6,436.6 122.4,436.6" fill="none" stroke="#2232aa" stroke-width="1.35" stroke-linejoin="miter"/>
<polygon points="135.9,434.6 145.5,418.1 126.3,418.1" fill="none" stroke="#2232aa" stroke-width="1.35" stroke-linejoin="miter"/>
<polygon points="139.7,417.4 149.3,400.9 130.1,400.9" fill="none" stroke="#2232aa" stroke-width="1.35" stroke-linejoin="miter"/>
<polygon points="143.6,401.5 153.2,385.0 134.0,385.0" fill="none" stroke="#2232aa" stroke-width="1.35" stroke-linejoin="miter"/>
<polygon points="147.5,386.5 157.1,370.0 137.9,370.0" fill="none" stroke="#2232aa" stroke-width="1.35" stroke-linejoin="miter"/>
<polygon points="151.4,372.2 161.0,355.7 141.8,355.7" fill="none" stroke="#2232aa" stroke-width="1.35" stroke-linejoin="miter"/>
<polygon points="155.2,358.1 164.8,341.6 145.6,341.6" fill="none" stroke="#2232aa" stroke-width="1.35" stroke-linejoin="miter"/>
<polygon points="159.1,344.2 168.7,327.7 149.5,327.7" fill="none" stroke="#2232aa" stroke-width="1.35" stroke-linejoin="miter"/>
<polygon points="163.0,330.2 172.6,313.7 153.4,313.7" fill="none" stroke="#2232aa" stroke-width="1.35" stroke-linejoin="miter"/>
<polygon points="166.8,315.9 176.4,299.4 157.2,299.4" fill="none" stroke="#2232aa" stroke-width="1.35" stroke-linejoin="miter"/>
<polygon points="170.7,301.0 180.3,284.5 161.1,284.5" fill="none" stroke="#2232aa" stroke-width="1.35" stroke-linejoin="miter"/>
<polygon points="174.6,285.3 184.2,268.8 165.0,268.8" fill="none" stroke="#2232aa" stroke-width="1.35" stroke-linejoin="miter"/>
<polygon points="178.5,269.3 188.1,252.8 168.9,252.8" fill="none" stroke="#2232aa" stroke-width="1.35" stroke-linejoin="miter"/>
<polygon points="182.3,253.8 191.9,237.3 172.7,237.3" fill="none" stroke="#2232aa" stroke-width="1.35" stroke-linejoin="miter"/>
<polygon points="186.2,239.4 195.8,222.9 176.6,222.9" fill="none" stroke="#2232aa" stroke-width="1.35" stroke-linejoin="miter"/>
<polygon points="190.1,226.4 199.7,209.9 180.5,209.9" fill="none" stroke="#2232aa" stroke-width="1.35" stroke-linejoin="miter"/>
<polygon points="193.9,214.7 203.5,198.2 184.3,198.2" fill="none" stroke="#2232aa" stroke-width="1.35" stroke-linejoin="miter"/>
<polygon points="197.8,204.3 207.4,187.8 188.2,187.8" fill="none" stroke="#2232aa" stroke-width="1.35" stroke-linejoin="miter"/>
<polygon points="201.7,195.2 211.3,178.7 192.1,178.7" fill="none" stroke="#2232aa" stroke-width="1.35" stroke-linejoin="miter"/>
<polygon points="208.5,183.3 218.1,166.8 198.9,166.8" fill="none" stroke="#2232aa" stroke-width="1.35" stroke-linejoin="miter"/>
<polygon points="222.0,170.2 231.6,153.7 212.4,153.7" fill="none" stroke="#2232aa" stroke-width="1.35" stroke-linejoin="miter"/>
<polygon points="235.6,167.3 245.2,150.8 226.0,150.8" fill="none" stroke="#2232aa" stroke-width="1.35" stroke-linejoin="miter"/>
<polygon points="249.1,171.6 258.7,155.1 239.5,155.1" fill="none" stroke="#2232aa" stroke-width="1.35" stroke-linejoin="miter"/>
<polygon points="262.6,181.3 272.2,164.8 253.0,164.8" fill="none" stroke="#2232aa" stroke-width="1.35" stroke-linejoin="miter"/>
<polygon points="276.1,196.8 285.7,180.3 266.5,180.3" fill="none" stroke="#2232aa" stroke-width="1.35" stroke-linejoin="miter"/>
<polygon points="289.6,215.4 299.2,198.9 280.0,198.9" fill="none" stroke="#2232aa" stroke-width="1.35" stroke-linejoin="miter"/>
<polygon points="303.1,234.2 312.7,217.7 293.5,217.7" fill="none" stroke="#2232aa" stroke-width="1.35" stroke-linejoin="miter"/>
<polygon points="316.6,252.7 326.2,236.2 307.0,236.2" fill="none" stroke="#2232aa" stroke-width="1.35" stroke-linejoin="miter"/>
<polygon points="330.1,270.6 339.7,254.1 320.5,254.1" fill="none" stroke="#2232aa" stroke-width="1.35" stroke-linejoin="miter"/>
<polygon points="343.7,287.3 353.3,270.8 334.1,270.8" fill="none" stroke="#2232aa" stroke-width="1.35" stroke-linejoin="miter"/>
<polygon points="357.2,302.8 366.8,286.3 347.6,286.3" fill="none" stroke="#2232aa" stroke-width="1.35" stroke-linejoin="miter"/>
<polygon points="370.7,317.1 380.3,300.6 361.1,300.6" fill="none" stroke="#2232aa" stroke-width="1.35" stroke-linejoin="miter"/>
<polygon points="384.2,330.2 393.8,313.7 374.6,313.7" fill="none" stroke="#2232aa" stroke-width="1.35" stroke-linejoin="miter"/>
<polygon points="397.7,342.4 407.3,325.9 388.1,325.9" fill="none" stroke="#2232aa" stroke-width="1.35" stroke-linejoin="miter"/>
<polygon points="411.2,353.7 420.8,337.2 401.6,337.2" fill="none" stroke="#2232aa" stroke-width="1.35" stroke-linejoin="miter"/>
<polygon points="424.7,364.2 434.3,347.7 415.1,347.7" fill="none" stroke="#2232aa" stroke-width="1.35" stroke-linejoin="miter"/>
<polygon points="438.2,373.8 447.8,357.3 428.6,357.3" fill="none" stroke="#2232aa" stroke-width="1.35" stroke-linejoin="miter"/>
<polygon points="451.8,382.8 461.4,366.3 442.2,366.3" fill="none" stroke="#2232aa" stroke-width="1.35" stroke-linejoin="miter"/>
<polygon points="465.3,391.0 474.9,374.5 455.7,374.5" fill="none" stroke="#2232aa" stroke-width="1.35" stroke-linejoin="miter"/>
<polygon points="478.8,398.5 488.4,382.0 469.2,382.0" fill="none" stroke="#2232aa" stroke-width="1.35" stroke-linejoin="miter"/>
<polygon points="492.3,405.4 501.9,388.9 482.7,388.9" fill="none" stroke="#2232aa" stroke-width="1.35" stroke-linejoin="miter"/>
<polygon points="505.8,411.6 515.4,395.1 496.2,395.1" fill="none" stroke="#2232aa" stroke-width="1.35" stroke-linejoin="miter"/>
<polygon points="519.3,417.2 528.9,400.7 509.7,400.7" fill="none" stroke="#2232aa" stroke-width="1.35" stroke-linejoin="miter"/>
<polygon points="532.8,422.2 542.4,405.7 523.2,405.7" fill="none" stroke="#2232aa" stroke-width="1.35" stroke-linejoin="miter"/>
<polygon points="546.3,426.6 555.9,410.1 536.7,410.1" fill="none" stroke="#2232aa" stroke-width="1.35" stroke-linejoin="miter"/>
<polygon points="559.9,430.4 569.5,413.9 550.3,413.9" fill="none" stroke="#2232aa" stroke-width="1.35" stroke-linejoin="miter"/>
<polygon points="573.4,433.8 583.0,417.3 563.8,417.3" fill="none" stroke="#2232aa" stroke-width="1.35" stroke-linejoin="miter"/>
<polygon points="586.9,436.6 596.5,420.1 577.3,420.1" fill="none" stroke="#2232aa" stroke-width="1.35" stroke-linejoin="miter"/>
<polygon points="600.4,439.0 610.0,422.5 590.8,422.5" fill="none" stroke="#2232aa" stroke-width="1.35" stroke-linejoin="miter"/>
<polygon points="613.9,441.0 623.5,424.5 604.3,424.5" fill="none" stroke="#2232aa" stroke-width="1.35" stroke-linejoin="miter"/>
<polygon points="627.4,442.6 637.0,426.1 617.8,426.1" fill="none" stroke="#2232aa" stroke-width="1.35" stroke-linejoin="miter"/>
<polygon points="640.9,443.9 650.5,427.4 631.3,427.4" fill="none" stroke="#2232aa" stroke-width="1.35" stroke-linejoin="miter"/>
<polygon points="654.4,444.8 664.0,428.3 644.8,428.3" fill="none" stroke="#2232aa" stroke-width="1.35" stroke-linejoin="miter"/>
<polygon points="668.0,445.3 677.6,428.8 658.4,428.8" fill="none" stroke="#2232aa" stroke-width="1.35" stroke-linejoin="miter"/>
<polygon points="681.5,445.5 691.1,429.0 671.9,429.0" fill="none" stroke="#2232aa" stroke-width="1.35" stroke-linejoin="miter"/>
<polygon points="695.0,445.5 704.6,429.0 685.4,429.0" fill="none" stroke="#2232aa" stroke-width="1.35" stroke-linejoin="miter"/>
<polygon points="708.5,445.1 718.1,428.6 698.9,428.6" fill="none" stroke="#2232aa" stroke-width="1.35" stroke-linejoin="miter"/>
<polygon points="722.0,444.3 731.6,427.8 712.4,427.8" fill="none" stroke="#2232aa" stroke-width="1.35" stroke-linejoin="miter"/>
<polygon points="735.5,442.7 745.1,426.2 725.9,426.2" fill="none" stroke="#2232aa" stroke-width="1.35" stroke-linejoin="miter"/>
<polygon points="749.0,440.9 758.6,424.4 739.4,424.4" fill="none" stroke="#2232aa" stroke-width="1.35" stroke-linejoin="miter"/>
<polygon points="762.6,438.9 772.2,422.4 753.0,422.4" fill="none" stroke="#2232aa" stroke-width="1.35" stroke-linejoin="miter"/>
<polygon points="776.1,436.6 785.7,420.1 766.5,420.1" fill="none" stroke="#2232aa" stroke-width="1.35" stroke-linejoin="miter"/>
<polygon points="789.6,434.0 799.2,417.5 780.0,417.5" fill="none" stroke="#2232aa" stroke-width="1.35" stroke-linejoin="miter"/>
<polygon points="800.8,431.7 810.4,415.2 791.2,415.2" fill="none" stroke="#2232aa" stroke-width="1.35" stroke-linejoin="miter"/>
<polygon points="807.6,430.3 817.2,413.8 798.0,413.8" fill="none" stroke="#2232aa" stroke-width="1.35" stroke-linejoin="miter"/>
<path d="M111.83,547.14 L112.48,543.94 L113.13,540.74 L113.77,537.55 L114.40,534.35 L115.03,531.16 L115.65,527.96 L116.27,524.77 L116.89,521.58 L117.50,518.38 L118.10,515.19 L118.71,512.00 L119.31,508.81 L119.90,505.62 L120.50,502.44 L121.10,499.25 L121.69,496.06 L122.28,492.88 L122.88,489.69 L123.47,486.51 L124.06,483.33 L124.66,480.14 L125.25,476.96 L125.85,473.78 L126.45,470.60 L127.05,467.43 L127.66,464.25 L128.27,461.07 L128.88,457.90 L129.50,454.72 L130.12,451.55 L130.74,448.38 L131.38,445.21 L132.02,442.04 L132.66,438.87 L133.31,435.70 L133.97,432.54 L134.64,429.37 L135.31,426.21 L135.99,423.05 L136.68,419.88 L137.38,416.72 L138.09,413.57 L138.81,410.41 L139.54,407.25 L140.28,404.10 L141.04,400.94 L141.80,397.79 L142.57,394.64 L143.36,391.49 L144.16,388.34 L144.96,385.19 L145.77,382.04 L146.60,378.90 L147.43,375.75 L148.26,372.61 L149.11,369.47 L149.95,366.33 L150.81,363.19 L151.67,360.05 L152.53,356.91 L153.39,353.77 L154.26,350.64 L155.13,347.50 L156.00,344.37 L156.87,341.23 L157.74,338.10 L158.61,334.96 L159.48,331.83 L160.35,328.70 L161.22,325.57 L162.08,322.44 L162.94,319.31 L163.80,316.18 L164.65,313.05 L165.49,309.93 L166.33,306.80 L167.17,303.67 L167.99,300.54 L168.81,297.42 L169.62,294.29 L170.42,291.17 L171.21,288.04 L171.99,284.91 L172.76,281.79 L173.53,278.66 L174.29,275.54 L175.04,272.42 L175.79,269.29 L176.55,266.17 L177.30,263.04 L178.06,259.92 L178.82,256.79 L179.59,253.67 L180.36,250.54 L181.14,247.42 L181.94,244.29 L182.75,241.17 L183.57,238.04 L184.40,234.91 L185.26,231.79 L186.13,228.66 L187.02,225.53 L187.94,222.40 L188.88,219.27 L189.84,216.14 L190.83,213.01 L191.85,209.88 L192.90,206.75 L193.99,203.62 L195.10,200.49 L196.25,197.35 L197.44,194.22 L198.68,191.09 L199.98,187.99 L201.35,184.92 L202.81,181.90 L204.38,178.94 L206.06,176.05 L207.86,173.25 L209.81,170.55 L211.88,168.01 L214.09,165.67 L216.42,163.57 L218.88,161.75 L221.46,160.27 L224.15,159.15 L226.95,158.40 L229.81,158.00 L232.72,157.96 L235.64,158.26 L238.56,158.88 L241.45,159.81 L244.28,161.01 L247.06,162.42 L249.75,164.02 L252.37,165.76 L254.91,167.64 L257.37,169.64 L259.77,171.77 L262.11,174.00 L264.39,176.32 L266.62,178.73 L268.80,181.22 L270.94,183.77 L273.04,186.37 L275.11,189.02 L277.15,191.70 L279.16,194.40 L281.15,197.12 L283.14,199.83 L285.10,202.54 L287.06,205.25 L289.01,207.95 L290.96,210.64 L292.89,213.32 L294.82,216.00 L296.74,218.67 L298.66,221.33 L300.58,223.99 L302.49,226.64 L304.40,229.28 L306.31,231.91 L308.22,234.54 L310.12,237.16 L312.03,239.76 L313.95,242.36 L315.86,244.96 L317.78,247.54 L319.71,250.11 L321.64,252.68 L323.57,255.24 L325.52,257.78 L327.47,260.32 L329.43,262.85 L331.41,265.37 L333.39,267.87 L335.38,270.37 L337.39,272.86 L339.41,275.34 L341.45,277.81 L343.50,280.26 L345.57,282.71 L347.65,285.14 L349.76,287.57 L351.88,289.98 L354.02,292.38 L356.18,294.77 L358.35,297.15 L360.55,299.51 L362.76,301.87 L364.99,304.20 L367.23,306.53 L369.50,308.85 L371.78,311.15 L374.08,313.43 L376.39,315.70 L378.72,317.96 L381.07,320.21 L383.43,322.43 L385.82,324.65 L388.21,326.85 L390.63,329.03 L393.06,331.20 L395.50,333.35 L397.96,335.48 L400.44,337.60 L402.93,339.70 L405.44,341.79 L407.96,343.85 L410.50,345.90 L413.05,347.94 L415.61,349.95 L418.19,351.95 L420.79,353.92 L423.40,355.88 L426.02,357.82 L428.66,359.74 L431.31,361.64 L433.97,363.52 L436.65,365.38 L439.34,367.22 L442.05,369.04 L444.77,370.84 L447.50,372.62 L450.24,374.38 L453.00,376.11 L455.77,377.83 L458.55,379.52 L461.34,381.19 L464.15,382.83 L466.96,384.46 L469.79,386.06 L472.64,387.64 L475.49,389.19 L478.35,390.72 L481.23,392.23 L484.11,393.71 L487.01,395.16 L489.92,396.60 L492.84,398.00 L495.77,399.39 L498.71,400.74 L501.66,402.07 L504.62,403.38 L507.59,404.66 L510.57,405.91 L513.56,407.13 L516.56,408.33 L519.56,409.50 L522.58,410.65 L525.61,411.76 L528.64,412.85 L531.69,413.92 L534.74,414.96 L537.80,415.97 L540.87,416.96 L543.95,417.92 L547.04,418.86 L550.13,419.77 L553.23,420.65 L556.34,421.51 L559.45,422.35 L562.57,423.16 L565.70,423.95 L568.84,424.71 L571.98,425.45 L575.13,426.17 L578.28,426.86 L581.45,427.53 L584.61,428.17 L587.78,428.79 L590.96,429.39 L594.14,429.97 L597.33,430.52 L600.52,431.05 L603.72,431.56 L606.92,432.05 L610.13,432.51 L613.34,432.96 L616.56,433.38 L619.78,433.78 L623.00,434.16 L626.23,434.52 L629.46,434.85 L632.69,435.17 L635.93,435.46 L639.16,435.74 L642.41,435.99 L645.65,436.23 L648.90,436.45 L652.15,436.64 L655.40,436.82 L658.65,436.97 L661.91,437.11 L665.16,437.23 L668.42,437.33 L671.68,437.41 L674.94,437.47 L678.20,437.52 L681.46,437.54 L684.72,437.55 L687.99,437.54 L691.25,437.52 L694.51,437.47 L697.77,437.41 L701.04,437.33 L704.30,437.24 L707.56,437.13 L710.82,437.00 L714.08,436.85 L717.34,436.69 L720.59,436.51 L723.85,436.32 L727.10,436.11 L730.35,435.89 L733.60,435.65 L736.85,435.39 L740.10,435.12 L743.34,434.84 L746.58,434.54 L749.82,434.22 L753.05,433.90 L756.28,433.55 L759.51,433.20 L762.73,432.83 L765.95,432.45 L769.17,432.05 L772.38,431.64 L775.59,431.22 L778.79,430.78 L781.99,430.33 L785.19,429.87 L788.38,429.40 L791.56,428.91 L794.74,428.41 L797.91,427.90 L801.08,427.38 L804.24,426.85 L807.40,426.30 L810.55,425.75 L813.69,425.18 L816.83,424.60 L819.96,424.02 L823.09,423.42 L826.20,422.81 L829.31,422.19 L832.42,421.56 L835.51,420.92 L838.60,420.27" fill="none" stroke="#2232aa" stroke-width="2.7" stroke-linejoin="round" stroke-linecap="round"/>
<polygon points="112.5,536.5 123.1,547.1 112.5,557.7 101.9,547.1" fill="none" stroke="#0a7878" stroke-width="1.35" stroke-linejoin="miter"/>
<polygon points="117.1,532.3 127.7,542.9 117.1,553.5 106.5,542.9" fill="none" stroke="#0a7878" stroke-width="1.35" stroke-linejoin="miter"/>
<polygon points="121.7,518.5 132.3,529.1 121.7,539.7 111.1,529.1" fill="none" stroke="#0a7878" stroke-width="1.35" stroke-linejoin="miter"/>
<polygon points="126.3,502.6 136.9,513.2 126.3,523.8 115.7,513.2" fill="none" stroke="#0a7878" stroke-width="1.35" stroke-linejoin="miter"/>
<polygon points="130.9,484.2 141.5,494.8 130.9,505.4 120.3,494.8" fill="none" stroke="#0a7878" stroke-width="1.35" stroke-linejoin="miter"/>
<polygon points="135.5,463.1 146.1,473.7 135.5,484.3 124.9,473.7" fill="none" stroke="#0a7878" stroke-width="1.35" stroke-linejoin="miter"/>
<polygon points="140.1,440.6 150.7,451.2 140.1,461.8 129.5,451.2" fill="none" stroke="#0a7878" stroke-width="1.35" stroke-linejoin="miter"/>
<polygon points="144.7,418.5 155.3,429.1 144.7,439.7 134.1,429.1" fill="none" stroke="#0a7878" stroke-width="1.35" stroke-linejoin="miter"/>
<polygon points="149.3,398.6 159.9,409.2 149.3,419.8 138.7,409.2" fill="none" stroke="#0a7878" stroke-width="1.35" stroke-linejoin="miter"/>
<polygon points="153.9,380.7 164.5,391.3 153.9,401.9 143.3,391.3" fill="none" stroke="#0a7878" stroke-width="1.35" stroke-linejoin="miter"/>
<polygon points="158.5,364.1 169.1,374.7 158.5,385.3 147.9,374.7" fill="none" stroke="#0a7878" stroke-width="1.35" stroke-linejoin="miter"/>
<polygon points="163.2,348.3 173.8,358.9 163.2,369.5 152.6,358.9" fill="none" stroke="#0a7878" stroke-width="1.35" stroke-linejoin="miter"/>
<polygon points="167.8,333.0 178.4,343.6 167.8,354.2 157.2,343.6" fill="none" stroke="#0a7878" stroke-width="1.35" stroke-linejoin="miter"/>
<polygon points="172.4,318.0 183.0,328.6 172.4,339.2 161.8,328.6" fill="none" stroke="#0a7878" stroke-width="1.35" stroke-linejoin="miter"/>
<polygon points="177.0,303.2 187.6,313.8 177.0,324.4 166.4,313.8" fill="none" stroke="#0a7878" stroke-width="1.35" stroke-linejoin="miter"/>
<polygon points="181.6,288.2 192.2,298.8 181.6,309.4 171.0,298.8" fill="none" stroke="#0a7878" stroke-width="1.35" stroke-linejoin="miter"/>
<polygon points="186.2,273.2 196.8,283.8 186.2,294.4 175.6,283.8" fill="none" stroke="#0a7878" stroke-width="1.35" stroke-linejoin="miter"/>
<polygon points="190.8,258.5 201.4,269.1 190.8,279.7 180.2,269.1" fill="none" stroke="#0a7878" stroke-width="1.35" stroke-linejoin="miter"/>
<polygon points="195.4,244.2 206.0,254.8 195.4,265.4 184.8,254.8" fill="none" stroke="#0a7878" stroke-width="1.35" stroke-linejoin="miter"/>
<polygon points="200.0,230.6 210.6,241.2 200.0,251.8 189.4,241.2" fill="none" stroke="#0a7878" stroke-width="1.35" stroke-linejoin="miter"/>
<polygon points="204.6,217.7 215.2,228.3 204.6,238.9 194.0,228.3" fill="none" stroke="#0a7878" stroke-width="1.35" stroke-linejoin="miter"/>
<polygon points="208.5,207.4 219.1,218.0 208.5,228.6 197.9,218.0" fill="none" stroke="#0a7878" stroke-width="1.35" stroke-linejoin="miter"/>
<polygon points="222.0,175.4 232.6,186.0 222.0,196.6 211.4,186.0" fill="none" stroke="#0a7878" stroke-width="1.35" stroke-linejoin="miter"/>
<polygon points="235.6,152.5 246.2,163.1 235.6,173.7 225.0,163.1" fill="none" stroke="#0a7878" stroke-width="1.35" stroke-linejoin="miter"/>
<polygon points="249.1,139.7 259.7,150.3 249.1,160.9 238.5,150.3" fill="none" stroke="#0a7878" stroke-width="1.35" stroke-linejoin="miter"/>
<polygon points="262.6,134.1 273.2,144.7 262.6,155.3 252.0,144.7" fill="none" stroke="#0a7878" stroke-width="1.35" stroke-linejoin="miter"/>
<polygon points="276.1,133.4 286.7,144.0 276.1,154.6 265.5,144.0" fill="none" stroke="#0a7878" stroke-width="1.35" stroke-linejoin="miter"/>
<polygon points="289.6,137.4 300.2,148.0 289.6,158.6 279.0,148.0" fill="none" stroke="#0a7878" stroke-width="1.35" stroke-linejoin="miter"/>
<polygon points="303.1,145.3 313.7,155.9 303.1,166.5 292.5,155.9" fill="none" stroke="#0a7878" stroke-width="1.35" stroke-linejoin="miter"/>
<polygon points="316.6,156.3 327.2,166.9 316.6,177.5 306.0,166.9" fill="none" stroke="#0a7878" stroke-width="1.35" stroke-linejoin="miter"/>
<polygon points="330.1,169.9 340.7,180.5 330.1,191.1 319.5,180.5" fill="none" stroke="#0a7878" stroke-width="1.35" stroke-linejoin="miter"/>
<polygon points="343.7,185.7 354.3,196.3 343.7,206.9 333.1,196.3" fill="none" stroke="#0a7878" stroke-width="1.35" stroke-linejoin="miter"/>
<polygon points="357.2,202.7 367.8,213.3 357.2,223.9 346.6,213.3" fill="none" stroke="#0a7878" stroke-width="1.35" stroke-linejoin="miter"/>
<polygon points="370.7,219.1 381.3,229.7 370.7,240.3 360.1,229.7" fill="none" stroke="#0a7878" stroke-width="1.35" stroke-linejoin="miter"/>
<polygon points="384.2,233.8 394.8,244.4 384.2,255.0 373.6,244.4" fill="none" stroke="#0a7878" stroke-width="1.35" stroke-linejoin="miter"/>
<polygon points="397.7,247.2 408.3,257.8 397.7,268.4 387.1,257.8" fill="none" stroke="#0a7878" stroke-width="1.35" stroke-linejoin="miter"/>
<polygon points="411.2,259.6 421.8,270.2 411.2,280.8 400.6,270.2" fill="none" stroke="#0a7878" stroke-width="1.35" stroke-linejoin="miter"/>
<polygon points="424.7,271.2 435.3,281.8 424.7,292.4 414.1,281.8" fill="none" stroke="#0a7878" stroke-width="1.35" stroke-linejoin="miter"/>
<polygon points="438.2,282.4 448.8,293.0 438.2,303.6 427.6,293.0" fill="none" stroke="#0a7878" stroke-width="1.35" stroke-linejoin="miter"/>
<polygon points="451.8,293.2 462.4,303.8 451.8,314.4 441.2,303.8" fill="none" stroke="#0a7878" stroke-width="1.35" stroke-linejoin="miter"/>
<polygon points="465.3,303.6 475.9,314.2 465.3,324.8 454.7,314.2" fill="none" stroke="#0a7878" stroke-width="1.35" stroke-linejoin="miter"/>
<polygon points="478.8,313.5 489.4,324.1 478.8,334.7 468.2,324.1" fill="none" stroke="#0a7878" stroke-width="1.35" stroke-linejoin="miter"/>
<polygon points="492.3,322.7 502.9,333.3 492.3,343.9 481.7,333.3" fill="none" stroke="#0a7878" stroke-width="1.35" stroke-linejoin="miter"/>
<polygon points="505.8,331.3 516.4,341.9 505.8,352.5 495.2,341.9" fill="none" stroke="#0a7878" stroke-width="1.35" stroke-linejoin="miter"/>
<polygon points="519.3,339.0 529.9,349.6 519.3,360.2 508.7,349.6" fill="none" stroke="#0a7878" stroke-width="1.35" stroke-linejoin="miter"/>
<polygon points="532.8,346.0 543.4,356.6 532.8,367.2 522.2,356.6" fill="none" stroke="#0a7878" stroke-width="1.35" stroke-linejoin="miter"/>
<polygon points="546.3,352.3 556.9,362.9 546.3,373.5 535.7,362.9" fill="none" stroke="#0a7878" stroke-width="1.35" stroke-linejoin="miter"/>
<polygon points="559.9,358.0 570.5,368.6 559.9,379.2 549.3,368.6" fill="none" stroke="#0a7878" stroke-width="1.35" stroke-linejoin="miter"/>
<polygon points="573.4,363.0 584.0,373.6 573.4,384.2 562.8,373.6" fill="none" stroke="#0a7878" stroke-width="1.35" stroke-linejoin="miter"/>
<polygon points="586.9,367.5 597.5,378.1 586.9,388.7 576.3,378.1" fill="none" stroke="#0a7878" stroke-width="1.35" stroke-linejoin="miter"/>
<polygon points="600.4,371.5 611.0,382.1 600.4,392.7 589.8,382.1" fill="none" stroke="#0a7878" stroke-width="1.35" stroke-linejoin="miter"/>
<polygon points="613.9,375.0 624.5,385.6 613.9,396.2 603.3,385.6" fill="none" stroke="#0a7878" stroke-width="1.35" stroke-linejoin="miter"/>
<polygon points="627.4,378.0 638.0,388.6 627.4,399.2 616.8,388.6" fill="none" stroke="#0a7878" stroke-width="1.35" stroke-linejoin="miter"/>
<polygon points="640.9,380.5 651.5,391.1 640.9,401.7 630.3,391.1" fill="none" stroke="#0a7878" stroke-width="1.35" stroke-linejoin="miter"/>
<polygon points="654.4,382.7 665.0,393.3 654.4,403.9 643.8,393.3" fill="none" stroke="#0a7878" stroke-width="1.35" stroke-linejoin="miter"/>
<polygon points="668.0,384.4 678.6,395.0 668.0,405.6 657.4,395.0" fill="none" stroke="#0a7878" stroke-width="1.35" stroke-linejoin="miter"/>
<polygon points="681.5,385.8 692.1,396.4 681.5,407.0 670.9,396.4" fill="none" stroke="#0a7878" stroke-width="1.35" stroke-linejoin="miter"/>
<polygon points="695.0,386.8 705.6,397.4 695.0,408.0 684.4,397.4" fill="none" stroke="#0a7878" stroke-width="1.35" stroke-linejoin="miter"/>
<polygon points="708.5,387.4 719.1,398.0 708.5,408.6 697.9,398.0" fill="none" stroke="#0a7878" stroke-width="1.35" stroke-linejoin="miter"/>
<polygon points="722.0,387.6 732.6,398.2 722.0,408.8 711.4,398.2" fill="none" stroke="#0a7878" stroke-width="1.35" stroke-linejoin="miter"/>
<polygon points="735.5,387.5 746.1,398.1 735.5,408.7 724.9,398.1" fill="none" stroke="#0a7878" stroke-width="1.35" stroke-linejoin="miter"/>
<polygon points="749.0,387.1 759.6,397.7 749.0,408.3 738.4,397.7" fill="none" stroke="#0a7878" stroke-width="1.35" stroke-linejoin="miter"/>
<polygon points="762.6,386.4 773.2,397.0 762.6,407.6 752.0,397.0" fill="none" stroke="#0a7878" stroke-width="1.35" stroke-linejoin="miter"/>
<polygon points="776.1,385.3 786.7,395.9 776.1,406.5 765.5,395.9" fill="none" stroke="#0a7878" stroke-width="1.35" stroke-linejoin="miter"/>
<polygon points="789.6,383.9 800.2,394.5 789.6,405.1 779.0,394.5" fill="none" stroke="#0a7878" stroke-width="1.35" stroke-linejoin="miter"/>
<path d="M115.51,547.13 L116.63,544.12 L117.71,541.10 L118.75,538.08 L119.77,535.05 L120.76,532.02 L121.72,528.99 L122.65,525.96 L123.56,522.92 L124.44,519.88 L125.30,516.83 L126.13,513.79 L126.95,510.74 L127.74,507.69 L128.51,504.64 L129.27,501.58 L130.01,498.52 L130.73,495.47 L131.44,492.40 L132.13,489.34 L132.82,486.28 L133.49,483.21 L134.15,480.14 L134.80,477.07 L135.45,474.00 L136.09,470.93 L136.72,467.86 L137.35,464.78 L137.98,461.71 L138.60,458.63 L139.23,455.55 L139.85,452.48 L140.48,449.40 L141.11,446.32 L141.74,443.24 L142.38,440.16 L143.02,437.08 L143.67,434.00 L144.33,430.92 L145.00,427.84 L145.68,424.76 L146.38,421.68 L147.08,418.60 L147.80,415.53 L148.54,412.45 L149.28,409.37 L150.05,406.29 L150.82,403.22 L151.61,400.14 L152.41,397.07 L153.22,394.00 L154.04,390.93 L154.87,387.86 L155.71,384.79 L156.56,381.73 L157.42,378.66 L158.29,375.60 L159.16,372.54 L160.05,369.48 L160.94,366.42 L161.83,363.37 L162.74,360.32 L163.64,357.27 L164.56,354.22 L165.47,351.18 L166.39,348.14 L167.32,345.10 L168.24,342.07 L169.17,339.03 L170.10,336.01 L171.04,332.98 L171.97,329.96 L172.90,326.94 L173.83,323.93 L174.77,320.92 L175.70,317.91 L176.63,314.91 L177.56,311.91 L178.48,308.91 L179.40,305.92 L180.32,302.94 L181.24,299.96 L182.15,296.98 L183.06,294.00 L183.98,291.03 L184.89,288.06 L185.81,285.10 L186.72,282.13 L187.65,279.17 L188.57,276.21 L189.50,273.25 L190.43,270.29 L191.37,267.33 L192.32,264.37 L193.27,261.42 L194.23,258.46 L195.20,255.50 L196.18,252.54 L197.17,249.58 L198.17,246.62 L199.18,243.66 L200.21,240.69 L201.25,237.72 L202.30,234.75 L203.37,231.78 L204.45,228.80 L205.55,225.82 L206.67,222.84 L207.80,219.85 L208.95,216.86 L210.13,213.86 L211.32,210.86 L212.53,207.85 L213.76,204.84 L215.02,201.82 L216.30,198.80 L217.60,195.76 L218.93,192.73 L220.29,189.71 L221.69,186.70 L223.12,183.71 L224.60,180.76 L226.12,177.86 L227.70,175.01 L229.33,172.23 L231.02,169.51 L232.78,166.88 L234.60,164.35 L236.50,161.91 L238.48,159.59 L240.54,157.38 L242.68,155.31 L244.92,153.37 L247.25,151.58 L249.68,149.95 L252.21,148.49 L254.85,147.21 L257.60,146.11 L260.46,145.21 L263.41,144.51 L266.43,144.03 L269.49,143.77 L272.56,143.74 L275.63,143.96 L278.67,144.42 L281.68,145.10 L284.66,146.01 L287.61,147.10 L290.51,148.38 L293.38,149.81 L296.20,151.39 L298.97,153.10 L301.70,154.91 L304.38,156.82 L307.00,158.79 L309.57,160.83 L312.08,162.90 L314.53,165.02 L316.93,167.17 L319.29,169.36 L321.59,171.58 L323.86,173.83 L326.08,176.11 L328.26,178.42 L330.41,180.75 L332.53,183.10 L334.61,185.47 L336.67,187.86 L338.70,190.27 L340.72,192.69 L342.71,195.12 L344.69,197.56 L346.66,200.01 L348.61,202.46 L350.56,204.92 L352.50,207.38 L354.45,209.84 L356.39,212.29 L358.33,214.74 L360.29,217.18 L362.25,219.61 L364.22,222.03 L366.21,224.44 L368.22,226.83 L370.24,229.20 L372.29,231.56 L374.36,233.89 L376.45,236.21 L378.56,238.50 L380.70,240.79 L382.85,243.05 L385.02,245.30 L387.21,247.53 L389.41,249.75 L391.64,251.95 L393.88,254.13 L396.14,256.31 L398.41,258.47 L400.70,260.61 L403.00,262.75 L405.32,264.87 L407.65,266.98 L409.99,269.08 L412.35,271.16 L414.72,273.24 L417.10,275.31 L419.49,277.37 L421.90,279.42 L424.31,281.46 L426.73,283.50 L429.16,285.53 L431.60,287.55 L434.05,289.56 L436.50,291.57 L438.96,293.58 L441.43,295.57 L443.90,297.57 L446.38,299.55 L448.87,301.53 L451.36,303.51 L453.87,305.47 L456.38,307.42 L458.89,309.37 L461.42,311.30 L463.95,313.22 L466.50,315.13 L469.05,317.03 L471.61,318.91 L474.18,320.78 L476.75,322.64 L479.34,324.48 L481.94,326.30 L484.55,328.11 L487.17,329.89 L489.80,331.66 L492.43,333.41 L495.08,335.14 L497.75,336.85 L500.42,338.54 L503.10,340.20 L505.80,341.85 L508.50,343.47 L511.22,345.06 L513.96,346.63 L516.70,348.17 L519.46,349.69 L522.23,351.19 L525.01,352.65 L527.80,354.10 L530.61,355.51 L533.42,356.91 L536.25,358.27 L539.09,359.62 L541.94,360.93 L544.80,362.23 L547.67,363.49 L550.55,364.74 L553.44,365.96 L556.35,367.15 L559.26,368.32 L562.18,369.47 L565.11,370.59 L568.05,371.69 L571.00,372.77 L573.95,373.82 L576.92,374.85 L579.90,375.85 L582.88,376.83 L585.87,377.79 L588.87,378.72 L591.88,379.63 L594.89,380.52 L597.92,381.38 L600.95,382.23 L603.98,383.05 L607.03,383.84 L610.08,384.62 L613.13,385.37 L616.20,386.10 L619.27,386.80 L622.34,387.49 L625.43,388.15 L628.51,388.79 L631.61,389.41 L634.70,390.00 L637.81,390.58 L640.91,391.13 L644.03,391.66 L647.14,392.17 L650.27,392.66 L653.39,393.13 L656.52,393.58 L659.66,394.00 L662.79,394.41 L665.93,394.79 L669.08,395.15 L672.23,395.50 L675.38,395.82 L678.53,396.12 L681.68,396.40 L684.84,396.66 L688.00,396.90 L691.16,397.12 L694.33,397.32 L697.49,397.50 L700.66,397.66 L703.83,397.80 L707.00,397.92 L710.17,398.03 L713.34,398.11 L716.51,398.17 L719.68,398.22 L722.85,398.24 L726.02,398.25 L729.20,398.23 L732.37,398.20 L735.54,398.15 L738.71,398.08 L741.88,397.99 L745.04,397.88 L748.21,397.76 L751.38,397.62 L754.54,397.45 L757.70,397.28 L760.86,397.08 L764.02,396.86 L767.18,396.63 L770.33,396.38 L773.48,396.11 L776.62,395.82 L779.77,395.52 L782.91,395.20 L786.05,394.86 L789.18,394.51 L792.31,394.14 L795.44,393.75 L798.56,393.34 L801.67,392.92 L804.79,392.48 L807.90,392.02 L811.00,391.55 L814.10,391.06 L817.19,390.56 L820.28,390.04 L823.36,389.50 L826.43,388.95 L829.50,388.38 L832.57,387.79 L835.62,387.19 L838.67,386.58" fill="none" stroke="#0a7878" stroke-width="2.7" stroke-linejoin="round" stroke-linecap="round"/>
<polygon points="104.8,547.2 121.8,537.6 121.8,556.8" fill="none" stroke="#a0209a" stroke-width="1.35" stroke-linejoin="miter"/>
<polygon points="110.0,543.9 127.0,534.3 127.0,553.5" fill="none" stroke="#a0209a" stroke-width="1.35" stroke-linejoin="miter"/>
<polygon points="115.1,532.6 132.1,523.0 132.1,542.2" fill="none" stroke="#a0209a" stroke-width="1.35" stroke-linejoin="miter"/>
<polygon points="120.3,519.9 137.3,510.3 137.3,529.5" fill="none" stroke="#a0209a" stroke-width="1.35" stroke-linejoin="miter"/>
<polygon points="125.5,505.5 142.5,495.9 142.5,515.1" fill="none" stroke="#a0209a" stroke-width="1.35" stroke-linejoin="miter"/>
<polygon points="130.6,489.2 147.6,479.6 147.6,498.8" fill="none" stroke="#a0209a" stroke-width="1.35" stroke-linejoin="miter"/>
<polygon points="135.8,471.0 152.8,461.4 152.8,480.6" fill="none" stroke="#a0209a" stroke-width="1.35" stroke-linejoin="miter"/>
<polygon points="140.9,451.1 157.9,441.5 157.9,460.7" fill="none" stroke="#a0209a" stroke-width="1.35" stroke-linejoin="miter"/>
<polygon points="146.1,430.6 163.1,421.0 163.1,440.2" fill="none" stroke="#a0209a" stroke-width="1.35" stroke-linejoin="miter"/>
<polygon points="151.3,409.8 168.3,400.2 168.3,419.4" fill="none" stroke="#a0209a" stroke-width="1.35" stroke-linejoin="miter"/>
<polygon points="156.4,389.0 173.4,379.4 173.4,398.6" fill="none" stroke="#a0209a" stroke-width="1.35" stroke-linejoin="miter"/>
<polygon points="161.6,376.5 178.6,366.9 178.6,386.1" fill="none" stroke="#a0209a" stroke-width="1.35" stroke-linejoin="miter"/>
<polygon points="166.8,367.8 183.8,358.2 183.8,377.4" fill="none" stroke="#a0209a" stroke-width="1.35" stroke-linejoin="miter"/>
<polygon points="171.9,357.6 188.9,348.0 188.9,367.2" fill="none" stroke="#a0209a" stroke-width="1.35" stroke-linejoin="miter"/>
<polygon points="177.1,344.9 194.1,335.3 194.1,354.5" fill="none" stroke="#a0209a" stroke-width="1.35" stroke-linejoin="miter"/>
<polygon points="182.2,331.9 199.2,322.3 199.2,341.5" fill="none" stroke="#a0209a" stroke-width="1.35" stroke-linejoin="miter"/>
<polygon points="187.4,317.9 204.4,308.3 204.4,327.5" fill="none" stroke="#a0209a" stroke-width="1.35" stroke-linejoin="miter"/>
<polygon points="192.6,303.1 209.6,293.5 209.6,312.7" fill="none" stroke="#a0209a" stroke-width="1.35" stroke-linejoin="miter"/>
<polygon points="197.2,289.4 214.2,279.8 214.2,299.0" fill="none" stroke="#a0209a" stroke-width="1.35" stroke-linejoin="miter"/>
<polygon points="210.7,249.2 227.7,239.6 227.7,258.8" fill="none" stroke="#a0209a" stroke-width="1.35" stroke-linejoin="miter"/>
<polygon points="224.2,214.1 241.2,204.5 241.2,223.7" fill="none" stroke="#a0209a" stroke-width="1.35" stroke-linejoin="miter"/>
<polygon points="237.7,186.1 254.7,176.5 254.7,195.7" fill="none" stroke="#a0209a" stroke-width="1.35" stroke-linejoin="miter"/>
<polygon points="251.2,164.1 268.2,154.5 268.2,173.7" fill="none" stroke="#a0209a" stroke-width="1.35" stroke-linejoin="miter"/>
<polygon points="264.8,149.3 281.8,139.7 281.8,158.9" fill="none" stroke="#a0209a" stroke-width="1.35" stroke-linejoin="miter"/>
<polygon points="278.3,142.2 295.3,132.6 295.3,151.8" fill="none" stroke="#a0209a" stroke-width="1.35" stroke-linejoin="miter"/>
<polygon points="291.8,139.9 308.8,130.3 308.8,149.5" fill="none" stroke="#a0209a" stroke-width="1.35" stroke-linejoin="miter"/>
<polygon points="305.3,140.6 322.3,131.0 322.3,150.2" fill="none" stroke="#a0209a" stroke-width="1.35" stroke-linejoin="miter"/>
<polygon points="318.8,143.9 335.8,134.3 335.8,153.5" fill="none" stroke="#a0209a" stroke-width="1.35" stroke-linejoin="miter"/>
<polygon points="332.3,150.1 349.3,140.5 349.3,159.7" fill="none" stroke="#a0209a" stroke-width="1.35" stroke-linejoin="miter"/>
<polygon points="345.8,159.2 362.8,149.6 362.8,168.8" fill="none" stroke="#a0209a" stroke-width="1.35" stroke-linejoin="miter"/>
<polygon points="359.3,170.7 376.3,161.1 376.3,180.3" fill="none" stroke="#a0209a" stroke-width="1.35" stroke-linejoin="miter"/>
<polygon points="372.9,183.0 389.9,173.4 389.9,192.6" fill="none" stroke="#a0209a" stroke-width="1.35" stroke-linejoin="miter"/>
<polygon points="386.4,194.2 403.4,184.6 403.4,203.8" fill="none" stroke="#a0209a" stroke-width="1.35" stroke-linejoin="miter"/>
<polygon points="399.9,203.3 416.9,193.7 416.9,212.9" fill="none" stroke="#a0209a" stroke-width="1.35" stroke-linejoin="miter"/>
<polygon points="413.4,212.3 430.4,202.7 430.4,221.9" fill="none" stroke="#a0209a" stroke-width="1.35" stroke-linejoin="miter"/>
<polygon points="426.9,223.6 443.9,214.0 443.9,233.2" fill="none" stroke="#a0209a" stroke-width="1.35" stroke-linejoin="miter"/>
<polygon points="440.4,239.1 457.4,229.5 457.4,248.7" fill="none" stroke="#a0209a" stroke-width="1.35" stroke-linejoin="miter"/>
<polygon points="453.9,254.4 470.9,244.8 470.9,264.0" fill="none" stroke="#a0209a" stroke-width="1.35" stroke-linejoin="miter"/>
<polygon points="467.4,264.3 484.4,254.7 484.4,273.9" fill="none" stroke="#a0209a" stroke-width="1.35" stroke-linejoin="miter"/>
<polygon points="481.0,272.0 498.0,262.4 498.0,281.6" fill="none" stroke="#a0209a" stroke-width="1.35" stroke-linejoin="miter"/>
<polygon points="494.5,279.0 511.5,269.4 511.5,288.6" fill="none" stroke="#a0209a" stroke-width="1.35" stroke-linejoin="miter"/>
<polygon points="508.0,286.5 525.0,276.9 525.0,296.1" fill="none" stroke="#a0209a" stroke-width="1.35" stroke-linejoin="miter"/>
<polygon points="521.5,294.7 538.5,285.1 538.5,304.3" fill="none" stroke="#a0209a" stroke-width="1.35" stroke-linejoin="miter"/>
<polygon points="535.0,302.9 552.0,293.3 552.0,312.5" fill="none" stroke="#a0209a" stroke-width="1.35" stroke-linejoin="miter"/>
<polygon points="548.5,310.5 565.5,300.9 565.5,320.1" fill="none" stroke="#a0209a" stroke-width="1.35" stroke-linejoin="miter"/>
<polygon points="562.0,317.6 579.0,308.0 579.0,327.2" fill="none" stroke="#a0209a" stroke-width="1.35" stroke-linejoin="miter"/>
<polygon points="575.6,324.1 592.6,314.5 592.6,333.7" fill="none" stroke="#a0209a" stroke-width="1.35" stroke-linejoin="miter"/>
<polygon points="589.1,330.1 606.1,320.5 606.1,339.7" fill="none" stroke="#a0209a" stroke-width="1.35" stroke-linejoin="miter"/>
<polygon points="602.6,335.6 619.6,326.0 619.6,345.2" fill="none" stroke="#a0209a" stroke-width="1.35" stroke-linejoin="miter"/>
<polygon points="616.1,340.6 633.1,331.0 633.1,350.2" fill="none" stroke="#a0209a" stroke-width="1.35" stroke-linejoin="miter"/>
<polygon points="629.6,345.1 646.6,335.5 646.6,354.7" fill="none" stroke="#a0209a" stroke-width="1.35" stroke-linejoin="miter"/>
<polygon points="643.1,349.1 660.1,339.5 660.1,358.7" fill="none" stroke="#a0209a" stroke-width="1.35" stroke-linejoin="miter"/>
<polygon points="656.6,352.6 673.6,343.0 673.6,362.2" fill="none" stroke="#a0209a" stroke-width="1.35" stroke-linejoin="miter"/>
<polygon points="670.1,355.6 687.1,346.0 687.1,365.2" fill="none" stroke="#a0209a" stroke-width="1.35" stroke-linejoin="miter"/>
<polygon points="683.7,358.0 700.7,348.4 700.7,367.6" fill="none" stroke="#a0209a" stroke-width="1.35" stroke-linejoin="miter"/>
<polygon points="697.2,360.0 714.2,350.4 714.2,369.6" fill="none" stroke="#a0209a" stroke-width="1.35" stroke-linejoin="miter"/>
<polygon points="710.7,361.5 727.7,351.9 727.7,371.1" fill="none" stroke="#a0209a" stroke-width="1.35" stroke-linejoin="miter"/>
<polygon points="724.2,362.6 741.2,353.0 741.2,372.2" fill="none" stroke="#a0209a" stroke-width="1.35" stroke-linejoin="miter"/>
<polygon points="737.7,363.4 754.7,353.8 754.7,373.0" fill="none" stroke="#a0209a" stroke-width="1.35" stroke-linejoin="miter"/>
<polygon points="751.2,363.8 768.2,354.2 768.2,373.4" fill="none" stroke="#a0209a" stroke-width="1.35" stroke-linejoin="miter"/>
<polygon points="764.7,363.9 781.7,354.3 781.7,373.5" fill="none" stroke="#a0209a" stroke-width="1.35" stroke-linejoin="miter"/>
<polygon points="778.2,363.8 795.2,354.2 795.2,373.4" fill="none" stroke="#a0209a" stroke-width="1.35" stroke-linejoin="miter"/>
<polygon points="796.3,363.3 813.3,353.7 813.3,372.9" fill="none" stroke="#a0209a" stroke-width="1.35" stroke-linejoin="miter"/>
<path d="M119.68,547.19 L121.03,544.45 L122.35,541.70 L123.63,538.94 L124.89,536.17 L126.12,533.39 L127.32,530.60 L128.48,527.80 L129.63,524.99 L130.74,522.17 L131.83,519.34 L132.90,516.50 L133.94,513.65 L134.96,510.80 L135.95,507.93 L136.93,505.06 L137.88,502.19 L138.82,499.30 L139.74,496.41 L140.64,493.52 L141.53,490.61 L142.39,487.71 L143.25,484.79 L144.09,481.87 L144.92,478.95 L145.73,476.02 L146.54,473.09 L147.33,470.15 L148.12,467.21 L148.90,464.27 L149.67,461.32 L150.43,458.37 L151.19,455.42 L151.94,452.47 L152.69,449.52 L153.44,446.56 L154.19,443.60 L154.93,440.64 L155.67,437.69 L156.42,434.73 L157.16,431.77 L157.90,428.81 L158.64,425.85 L159.38,422.89 L160.11,419.93 L160.85,416.97 L161.57,414.01 L162.30,411.05 L163.02,408.09 L163.73,405.13 L164.44,402.18 L165.14,399.22 L165.85,396.27 L166.57,393.33 L167.35,390.42 L168.21,387.55 L169.16,384.73 L170.25,381.96 L171.48,379.27 L172.86,376.65 L174.35,374.07 L175.88,371.52 L177.43,368.96 L178.94,366.38 L180.37,363.75 L181.69,361.06 L182.93,358.32 L184.10,355.55 L185.23,352.75 L186.36,349.95 L187.49,347.14 L188.63,344.34 L189.76,341.53 L190.89,338.72 L192.01,335.90 L193.11,333.07 L194.20,330.24 L195.27,327.40 L196.33,324.55 L197.38,321.69 L198.42,318.83 L199.44,315.96 L200.46,313.08 L201.47,310.20 L202.47,307.32 L203.46,304.43 L204.45,301.54 L205.43,298.65 L206.40,295.75 L207.38,292.85 L208.34,289.95 L209.31,287.05 L210.28,284.15 L211.24,281.25 L212.20,278.35 L213.17,275.45 L214.14,272.55 L215.11,269.65 L216.08,266.76 L217.06,263.87 L218.04,260.98 L219.03,258.10 L220.03,255.22 L221.03,252.35 L222.04,249.48 L223.07,246.62 L224.10,243.76 L225.14,240.91 L226.20,238.07 L227.26,235.24 L228.34,232.41 L229.44,229.60 L230.55,226.79 L231.67,223.99 L232.82,221.21 L233.98,218.43 L235.16,215.67 L236.35,212.91 L237.57,210.17 L238.81,207.45 L240.07,204.73 L241.36,202.03 L242.67,199.33 L244.01,196.65 L245.38,193.98 L246.77,191.32 L248.20,188.66 L249.66,186.02 L251.16,183.38 L252.69,180.75 L254.26,178.13 L255.87,175.51 L257.52,172.90 L259.21,170.30 L260.95,167.73 L262.75,165.21 L264.61,162.74 L266.54,160.35 L268.55,158.05 L270.63,155.86 L272.80,153.79 L275.06,151.86 L277.43,150.08 L279.90,148.46 L282.47,147.03 L285.15,145.79 L287.93,144.72 L290.78,143.83 L293.71,143.10 L296.69,142.54 L299.73,142.15 L302.80,141.91 L305.90,141.82 L309.01,141.87 L312.14,142.08 L315.25,142.42 L318.36,142.89 L321.43,143.49 L324.47,144.22 L327.46,145.07 L330.39,146.04 L333.25,147.11 L336.04,148.30 L338.78,149.58 L341.45,150.96 L344.08,152.42 L346.65,153.97 L349.17,155.59 L351.65,157.28 L354.10,159.03 L356.50,160.85 L358.88,162.71 L361.22,164.63 L363.55,166.58 L365.85,168.57 L368.13,170.58 L370.40,172.62 L372.67,174.67 L374.92,176.74 L377.18,178.81 L379.44,180.87 L381.70,182.93 L383.97,184.98 L386.26,187.01 L388.56,189.01 L390.88,190.99 L393.23,192.92 L395.60,194.81 L398.01,196.66 L400.46,198.45 L402.94,200.18 L405.45,201.86 L407.99,203.51 L410.54,205.13 L413.09,206.75 L415.65,208.38 L418.19,210.03 L420.71,211.71 L423.21,213.43 L425.66,215.22 L428.08,217.07 L430.46,218.97 L432.79,220.94 L435.07,222.95 L437.31,225.03 L439.49,227.16 L441.61,229.34 L443.68,231.57 L445.69,233.84 L447.63,236.17 L449.52,238.53 L451.38,240.92 L453.22,243.30 L455.07,245.67 L456.95,247.99 L458.87,250.27 L460.87,252.46 L462.95,254.57 L465.12,256.59 L467.37,258.53 L469.70,260.39 L472.09,262.18 L474.54,263.91 L477.05,265.58 L479.61,267.20 L482.22,268.77 L484.86,270.30 L487.54,271.80 L490.25,273.27 L492.97,274.72 L495.71,276.16 L498.46,277.58 L501.22,279.01 L503.97,280.43 L506.71,281.87 L509.44,283.32 L512.15,284.79 L514.83,286.29 L517.48,287.82 L520.11,289.37 L522.72,290.95 L525.31,292.54 L527.90,294.14 L530.47,295.74 L533.05,297.35 L535.62,298.95 L538.20,300.54 L540.80,302.11 L543.40,303.67 L546.01,305.22 L548.63,306.75 L551.27,308.26 L553.91,309.76 L556.56,311.24 L559.22,312.71 L561.89,314.16 L564.57,315.59 L567.26,317.01 L569.96,318.41 L572.67,319.80 L575.39,321.16 L578.12,322.51 L580.85,323.85 L583.59,325.16 L586.35,326.46 L589.11,327.74 L591.88,329.00 L594.65,330.25 L597.44,331.47 L600.23,332.68 L603.03,333.87 L605.84,335.04 L608.66,336.19 L611.48,337.32 L614.32,338.43 L617.16,339.52 L620.00,340.59 L622.86,341.65 L625.72,342.68 L628.59,343.69 L631.46,344.68 L634.34,345.66 L637.23,346.61 L640.12,347.54 L643.03,348.45 L645.93,349.33 L648.85,350.20 L651.77,351.04 L654.69,351.87 L657.62,352.67 L660.56,353.45 L663.50,354.20 L666.45,354.94 L669.41,355.65 L672.37,356.34 L675.33,357.01 L678.30,357.65 L681.28,358.27 L684.26,358.87 L687.24,359.44 L690.23,359.99 L693.23,360.51 L696.23,361.01 L699.23,361.49 L702.24,361.94 L705.25,362.37 L708.26,362.78 L711.28,363.17 L714.30,363.53 L717.33,363.87 L720.36,364.19 L723.39,364.50 L726.42,364.78 L729.46,365.04 L732.50,365.28 L735.54,365.50 L738.58,365.70 L741.63,365.89 L744.67,366.06 L747.72,366.21 L750.77,366.34 L753.82,366.46 L756.87,366.56 L759.93,366.65 L762.98,366.72 L766.03,366.78 L769.08,366.82 L772.14,366.85 L775.19,366.86 L778.24,366.86 L781.29,366.85 L784.35,366.82 L787.40,366.79 L790.44,366.74 L793.49,366.68 L796.54,366.61 L799.58,366.53 L802.63,366.44 L805.67,366.34 L808.71,366.24 L811.74,366.12 L814.78,365.99 L817.81,365.86 L820.84,365.72 L823.86,365.57 L826.88,365.42 L829.90,365.26 L832.91,365.09 L835.93,364.92 L838.93,364.75" fill="none" stroke="#a0209a" stroke-width="2.7" stroke-linejoin="round" stroke-linecap="round"/>
<polygon points="125.6,547.2 108.6,537.6 108.6,556.8" fill="none" stroke="#6e7818" stroke-width="1.35" stroke-linejoin="miter"/>
<polygon points="129.7,547.2 112.7,537.6 112.7,556.8" fill="none" stroke="#6e7818" stroke-width="1.35" stroke-linejoin="miter"/>
<polygon points="133.7,547.2 116.7,537.6 116.7,556.8" fill="none" stroke="#6e7818" stroke-width="1.35" stroke-linejoin="miter"/>
<polygon points="137.8,547.2 120.8,537.6 120.8,556.8" fill="none" stroke="#6e7818" stroke-width="1.35" stroke-linejoin="miter"/>
<polygon points="141.9,547.2 124.9,537.6 124.9,556.8" fill="none" stroke="#6e7818" stroke-width="1.35" stroke-linejoin="miter"/>
<polygon points="145.9,546.3 128.9,536.7 128.9,555.9" fill="none" stroke="#6e7818" stroke-width="1.35" stroke-linejoin="miter"/>
<polygon points="150.0,544.9 133.0,535.3 133.0,554.5" fill="none" stroke="#6e7818" stroke-width="1.35" stroke-linejoin="miter"/>
<polygon points="154.0,543.1 137.0,533.5 137.0,552.7" fill="none" stroke="#6e7818" stroke-width="1.35" stroke-linejoin="miter"/>
<polygon points="158.1,540.7 141.1,531.1 141.1,550.3" fill="none" stroke="#6e7818" stroke-width="1.35" stroke-linejoin="miter"/>
<polygon points="162.1,537.8 145.1,528.2 145.1,547.4" fill="none" stroke="#6e7818" stroke-width="1.35" stroke-linejoin="miter"/>
<polygon points="166.2,534.1 149.2,524.5 149.2,543.7" fill="none" stroke="#6e7818" stroke-width="1.35" stroke-linejoin="miter"/>
<polygon points="170.3,529.7 153.3,520.1 153.3,539.3" fill="none" stroke="#6e7818" stroke-width="1.35" stroke-linejoin="miter"/>
<polygon points="174.3,524.4 157.3,514.8 157.3,534.0" fill="none" stroke="#6e7818" stroke-width="1.35" stroke-linejoin="miter"/>
<polygon points="178.4,518.3 161.4,508.7 161.4,527.9" fill="none" stroke="#6e7818" stroke-width="1.35" stroke-linejoin="miter"/>
<polygon points="182.4,511.3 165.4,501.7 165.4,520.9" fill="none" stroke="#6e7818" stroke-width="1.35" stroke-linejoin="miter"/>
<polygon points="186.5,503.6 169.5,494.0 169.5,513.2" fill="none" stroke="#6e7818" stroke-width="1.35" stroke-linejoin="miter"/>
<polygon points="190.5,495.4 173.5,485.8 173.5,505.0" fill="none" stroke="#6e7818" stroke-width="1.35" stroke-linejoin="miter"/>
<polygon points="194.6,486.8 177.6,477.2 177.6,496.4" fill="none" stroke="#6e7818" stroke-width="1.35" stroke-linejoin="miter"/>
<polygon points="198.6,477.8 181.6,468.2 181.6,487.4" fill="none" stroke="#6e7818" stroke-width="1.35" stroke-linejoin="miter"/>
<polygon points="202.7,468.5 185.7,458.9 185.7,478.1" fill="none" stroke="#6e7818" stroke-width="1.35" stroke-linejoin="miter"/>
<polygon points="219.9,425.6 202.9,416.0 202.9,435.2" fill="none" stroke="#6e7818" stroke-width="1.35" stroke-linejoin="miter"/>
<polygon points="233.4,390.8 216.4,381.2 216.4,400.4" fill="none" stroke="#6e7818" stroke-width="1.35" stroke-linejoin="miter"/>
<polygon points="246.9,358.4 229.9,348.8 229.9,368.0" fill="none" stroke="#6e7818" stroke-width="1.35" stroke-linejoin="miter"/>
<polygon points="260.4,329.2 243.4,319.6 243.4,338.8" fill="none" stroke="#6e7818" stroke-width="1.35" stroke-linejoin="miter"/>
<polygon points="273.9,302.9 256.9,293.3 256.9,312.5" fill="none" stroke="#6e7818" stroke-width="1.35" stroke-linejoin="miter"/>
<polygon points="287.4,279.3 270.4,269.7 270.4,288.9" fill="none" stroke="#6e7818" stroke-width="1.35" stroke-linejoin="miter"/>
<polygon points="300.9,258.0 283.9,248.4 283.9,267.6" fill="none" stroke="#6e7818" stroke-width="1.35" stroke-linejoin="miter"/>
<polygon points="314.4,238.7 297.4,229.1 297.4,248.3" fill="none" stroke="#6e7818" stroke-width="1.35" stroke-linejoin="miter"/>
<polygon points="328.0,221.1 311.0,211.5 311.0,230.7" fill="none" stroke="#6e7818" stroke-width="1.35" stroke-linejoin="miter"/>
<polygon points="341.5,205.2 324.5,195.6 324.5,214.8" fill="none" stroke="#6e7818" stroke-width="1.35" stroke-linejoin="miter"/>
<polygon points="355.0,190.7 338.0,181.1 338.0,200.3" fill="none" stroke="#6e7818" stroke-width="1.35" stroke-linejoin="miter"/>
<polygon points="368.5,177.7 351.5,168.1 351.5,187.3" fill="none" stroke="#6e7818" stroke-width="1.35" stroke-linejoin="miter"/>
<polygon points="382.0,166.4 365.0,156.8 365.0,176.0" fill="none" stroke="#6e7818" stroke-width="1.35" stroke-linejoin="miter"/>
<polygon points="395.5,156.8 378.5,147.2 378.5,166.4" fill="none" stroke="#6e7818" stroke-width="1.35" stroke-linejoin="miter"/>
<polygon points="409.0,148.8 392.0,139.2 392.0,158.4" fill="none" stroke="#6e7818" stroke-width="1.35" stroke-linejoin="miter"/>
<polygon points="422.6,142.6 405.6,133.0 405.6,152.2" fill="none" stroke="#6e7818" stroke-width="1.35" stroke-linejoin="miter"/>
<polygon points="436.1,137.9 419.1,128.3 419.1,147.5" fill="none" stroke="#6e7818" stroke-width="1.35" stroke-linejoin="miter"/>
<polygon points="449.6,134.8 432.6,125.2 432.6,144.4" fill="none" stroke="#6e7818" stroke-width="1.35" stroke-linejoin="miter"/>
<polygon points="463.1,133.1 446.1,123.5 446.1,142.7" fill="none" stroke="#6e7818" stroke-width="1.35" stroke-linejoin="miter"/>
<polygon points="476.6,132.4 459.6,122.8 459.6,142.0" fill="none" stroke="#6e7818" stroke-width="1.35" stroke-linejoin="miter"/>
<polygon points="490.1,132.7 473.1,123.1 473.1,142.3" fill="none" stroke="#6e7818" stroke-width="1.35" stroke-linejoin="miter"/>
<polygon points="503.6,133.8 486.6,124.2 486.6,143.4" fill="none" stroke="#6e7818" stroke-width="1.35" stroke-linejoin="miter"/>
<polygon points="517.1,135.6 500.1,126.0 500.1,145.2" fill="none" stroke="#6e7818" stroke-width="1.35" stroke-linejoin="miter"/>
<polygon points="530.7,138.0 513.7,128.4 513.7,147.6" fill="none" stroke="#6e7818" stroke-width="1.35" stroke-linejoin="miter"/>
<polygon points="544.2,140.9 527.2,131.3 527.2,150.5" fill="none" stroke="#6e7818" stroke-width="1.35" stroke-linejoin="miter"/>
<polygon points="557.7,144.4 540.7,134.8 540.7,154.0" fill="none" stroke="#6e7818" stroke-width="1.35" stroke-linejoin="miter"/>
<polygon points="571.2,148.2 554.2,138.6 554.2,157.8" fill="none" stroke="#6e7818" stroke-width="1.35" stroke-linejoin="miter"/>
<polygon points="584.7,152.4 567.7,142.8 567.7,162.0" fill="none" stroke="#6e7818" stroke-width="1.35" stroke-linejoin="miter"/>
<polygon points="598.2,156.8 581.2,147.2 581.2,166.4" fill="none" stroke="#6e7818" stroke-width="1.35" stroke-linejoin="miter"/>
<polygon points="611.7,161.3 594.7,151.7 594.7,170.9" fill="none" stroke="#6e7818" stroke-width="1.35" stroke-linejoin="miter"/>
<polygon points="625.2,165.8 608.2,156.2 608.2,175.4" fill="none" stroke="#6e7818" stroke-width="1.35" stroke-linejoin="miter"/>
<polygon points="638.8,170.3 621.8,160.7 621.8,179.9" fill="none" stroke="#6e7818" stroke-width="1.35" stroke-linejoin="miter"/>
<polygon points="652.3,174.6 635.3,165.0 635.3,184.2" fill="none" stroke="#6e7818" stroke-width="1.35" stroke-linejoin="miter"/>
<polygon points="665.8,178.5 648.8,168.9 648.8,188.1" fill="none" stroke="#6e7818" stroke-width="1.35" stroke-linejoin="miter"/>
<polygon points="679.3,182.2 662.3,172.6 662.3,191.8" fill="none" stroke="#6e7818" stroke-width="1.35" stroke-linejoin="miter"/>
<polygon points="692.8,185.5 675.8,175.9 675.8,195.1" fill="none" stroke="#6e7818" stroke-width="1.35" stroke-linejoin="miter"/>
<polygon points="706.3,188.5 689.3,178.9 689.3,198.1" fill="none" stroke="#6e7818" stroke-width="1.35" stroke-linejoin="miter"/>
<polygon points="719.8,191.2 702.8,181.6 702.8,200.8" fill="none" stroke="#6e7818" stroke-width="1.35" stroke-linejoin="miter"/>
<polygon points="733.3,193.7 716.3,184.1 716.3,203.3" fill="none" stroke="#6e7818" stroke-width="1.35" stroke-linejoin="miter"/>
<polygon points="746.9,195.9 729.9,186.3 729.9,205.5" fill="none" stroke="#6e7818" stroke-width="1.35" stroke-linejoin="miter"/>
<polygon points="760.4,197.9 743.4,188.3 743.4,207.5" fill="none" stroke="#6e7818" stroke-width="1.35" stroke-linejoin="miter"/>
<polygon points="773.9,199.6 756.9,190.0 756.9,209.2" fill="none" stroke="#6e7818" stroke-width="1.35" stroke-linejoin="miter"/>
<polygon points="787.4,201.1 770.4,191.5 770.4,210.7" fill="none" stroke="#6e7818" stroke-width="1.35" stroke-linejoin="miter"/>
<polygon points="819.7,203.9 802.7,194.3 802.7,213.5" fill="none" stroke="#6e7818" stroke-width="1.35" stroke-linejoin="miter"/>
<path d="M111.30,547.20 L114.74,547.20 L118.06,547.20 L121.25,547.20 L124.32,547.20 L127.27,547.20 L130.12,547.20 L132.85,546.74 L135.48,546.02 L138.02,545.16 L140.45,544.17 L142.79,543.04 L145.04,541.79 L147.21,540.43 L149.29,538.95 L151.30,537.36 L153.23,535.67 L155.09,533.89 L156.88,532.02 L158.61,530.06 L160.28,528.03 L161.89,525.93 L163.46,523.76 L164.97,521.54 L166.44,519.26 L167.87,516.93 L169.26,514.57 L170.62,512.16 L171.94,509.73 L173.24,507.27 L174.52,504.80 L175.78,502.32 L177.03,499.82 L178.26,497.32 L179.48,494.82 L180.68,492.31 L181.86,489.79 L183.04,487.27 L184.20,484.74 L185.35,482.20 L186.49,479.67 L187.62,477.12 L188.73,474.57 L189.84,472.02 L190.93,469.46 L192.02,466.90 L193.10,464.34 L194.17,461.77 L195.23,459.20 L196.28,456.63 L197.33,454.05 L198.37,451.47 L199.40,448.89 L200.43,446.31 L201.45,443.72 L202.47,441.14 L203.49,438.55 L204.50,435.96 L205.50,433.37 L206.51,430.78 L207.51,428.19 L208.51,425.60 L209.51,423.01 L210.51,420.42 L211.50,417.83 L212.50,415.24 L213.50,412.65 L214.50,410.06 L215.50,407.48 L216.50,404.89 L217.51,402.31 L218.52,399.73 L219.53,397.15 L220.54,394.58 L221.56,392.01 L222.58,389.44 L223.61,386.87 L224.65,384.31 L225.69,381.75 L226.74,379.20 L227.79,376.65 L228.85,374.10 L229.92,371.56 L230.99,369.02 L232.07,366.48 L233.16,363.95 L234.25,361.42 L235.35,358.90 L236.46,356.38 L237.58,353.87 L238.70,351.36 L239.83,348.86 L240.97,346.36 L242.12,343.86 L243.28,341.37 L244.44,338.88 L245.61,336.40 L246.79,333.93 L247.98,331.45 L249.18,328.99 L250.39,326.53 L251.60,324.07 L252.83,321.62 L254.06,319.17 L255.31,316.73 L256.56,314.30 L257.82,311.87 L259.10,309.44 L260.38,307.03 L261.67,304.61 L262.98,302.21 L264.29,299.80 L265.61,297.41 L266.95,295.02 L268.29,292.63 L269.65,290.26 L271.01,287.88 L272.39,285.52 L273.78,283.16 L275.18,280.80 L276.59,278.46 L278.01,276.12 L279.45,273.78 L280.89,271.45 L282.35,269.13 L283.82,266.82 L285.30,264.51 L286.80,262.21 L288.30,259.91 L289.82,257.62 L291.36,255.34 L292.90,253.07 L294.46,250.80 L296.03,248.54 L297.61,246.29 L299.21,244.04 L300.82,241.80 L302.45,239.57 L304.08,237.35 L305.73,235.13 L307.40,232.92 L309.08,230.72 L310.77,228.52 L312.48,226.34 L314.20,224.16 L315.94,221.99 L317.69,219.83 L319.46,217.67 L321.24,215.52 L323.04,213.38 L324.85,211.25 L326.67,209.13 L328.52,207.02 L330.37,204.91 L332.25,202.82 L334.14,200.73 L336.04,198.66 L337.96,196.60 L339.90,194.55 L341.85,192.52 L343.82,190.51 L345.80,188.51 L347.80,186.54 L349.82,184.58 L351.85,182.64 L353.90,180.72 L355.96,178.83 L358.04,176.96 L360.14,175.11 L362.26,173.29 L364.39,171.49 L366.54,169.73 L368.70,167.99 L370.88,166.28 L373.08,164.60 L375.29,162.96 L377.53,161.35 L379.78,159.77 L382.04,158.23 L384.32,156.72 L386.62,155.25 L388.94,153.82 L391.28,152.42 L393.63,151.07 L396.00,149.76 L398.39,148.49 L400.79,147.26 L403.22,146.08 L405.66,144.94 L408.12,143.85 L410.59,142.81 L413.09,141.82 L415.60,140.87 L418.13,139.98 L420.68,139.14 L423.25,138.35 L425.83,137.61 L428.43,136.93 L431.05,136.30 L433.69,135.72 L436.34,135.19 L439.00,134.71 L441.68,134.28 L444.38,133.89 L447.08,133.56 L449.79,133.26 L452.52,133.01 L455.26,132.81 L458.00,132.65 L460.75,132.53 L463.51,132.45 L466.28,132.41 L469.05,132.40 L471.83,132.44 L474.61,132.51 L477.40,132.62 L480.19,132.77 L482.98,132.95 L485.77,133.16 L488.56,133.40 L491.36,133.68 L494.15,133.98 L496.94,134.32 L499.72,134.68 L502.50,135.07 L505.28,135.49 L508.06,135.93 L510.82,136.40 L513.59,136.89 L516.34,137.40 L519.09,137.93 L521.82,138.49 L524.55,139.07 L527.27,139.66 L529.98,140.28 L532.69,140.91 L535.39,141.56 L538.08,142.23 L540.76,142.91 L543.44,143.61 L546.11,144.32 L548.78,145.05 L551.44,145.79 L554.09,146.55 L556.74,147.32 L559.38,148.10 L562.02,148.88 L564.66,149.68 L567.29,150.49 L569.92,151.31 L572.54,152.14 L575.16,152.97 L577.78,153.82 L580.39,154.66 L583.00,155.52 L585.61,156.38 L588.22,157.24 L590.83,158.11 L593.43,158.97 L596.03,159.85 L598.64,160.72 L601.24,161.59 L603.84,162.47 L606.44,163.34 L609.04,164.22 L611.65,165.09 L614.25,165.96 L616.85,166.83 L619.46,167.69 L622.06,168.55 L624.67,169.40 L627.28,170.25 L629.89,171.09 L632.51,171.93 L635.13,172.76 L637.75,173.57 L640.37,174.39 L643.00,175.19 L645.63,175.98 L648.27,176.76 L650.91,177.52 L653.56,178.28 L656.21,179.03 L658.86,179.76 L661.52,180.48 L664.18,181.19 L666.85,181.89 L669.52,182.57 L672.20,183.25 L674.87,183.91 L677.56,184.56 L680.24,185.20 L682.93,185.83 L685.63,186.45 L688.32,187.06 L691.02,187.66 L693.72,188.24 L696.43,188.82 L699.14,189.38 L701.85,189.94 L704.56,190.48 L707.28,191.01 L710.00,191.54 L712.72,192.05 L715.45,192.55 L718.17,193.04 L720.90,193.52 L723.63,193.99 L726.37,194.45 L729.10,194.90 L731.84,195.34 L734.58,195.78 L737.32,196.20 L740.06,196.61 L742.80,197.01 L745.54,197.40 L748.29,197.79 L751.04,198.16 L753.78,198.52 L756.53,198.88 L759.28,199.22 L762.03,199.56 L764.78,199.89 L767.53,200.21 L770.28,200.52 L773.04,200.82 L775.79,201.11 L778.54,201.39 L781.29,201.67 L784.05,201.93 L786.80,202.19 L789.55,202.44 L792.30,202.68 L795.05,202.91 L797.81,203.13 L800.56,203.35 L803.31,203.56 L806.05,203.76 L808.80,203.95 L811.55,204.13 L814.30,204.31 L817.04,204.47 L819.78,204.63 L822.53,204.79 L825.27,204.93 L828.01,205.07 L830.74,205.20 L833.48,205.32 L836.21,205.44 L838.95,205.54" fill="none" stroke="#6e7818" stroke-width="2.7" stroke-linejoin="round" stroke-linecap="round"/>
<polygon points="205.5,534.6 197.4,539.3 197.4,548.7 205.5,553.4 213.6,548.7 213.6,539.3" fill="none" stroke="#6a2090" stroke-width="1.35" stroke-linejoin="miter"/>
<polygon points="222.0,526.2 213.9,530.9 213.9,540.3 222.0,545.0 230.1,540.3 230.1,530.9" fill="none" stroke="#6a2090" stroke-width="1.35" stroke-linejoin="miter"/>
<polygon points="236.5,516.6 228.4,521.3 228.4,530.7 236.5,535.4 244.6,530.7 244.6,521.3" fill="none" stroke="#6a2090" stroke-width="1.35" stroke-linejoin="miter"/>
<polygon points="248.5,505.1 240.4,509.8 240.4,519.2 248.5,523.9 256.6,519.2 256.6,509.8" fill="none" stroke="#6a2090" stroke-width="1.35" stroke-linejoin="miter"/>
<polygon points="261.8,491.8 253.7,496.5 253.7,505.9 261.8,510.6 269.9,505.9 269.9,496.5" fill="none" stroke="#6a2090" stroke-width="1.35" stroke-linejoin="miter"/>
<polygon points="275.1,475.6 267.0,480.3 267.0,489.7 275.1,494.4 283.2,489.7 283.2,480.3" fill="none" stroke="#6a2090" stroke-width="1.35" stroke-linejoin="miter"/>
<polygon points="288.4,456.4 280.3,461.1 280.3,470.5 288.4,475.2 296.5,470.5 296.5,461.1" fill="none" stroke="#6a2090" stroke-width="1.35" stroke-linejoin="miter"/>
<polygon points="303.1,437.2 295.0,441.9 295.0,451.3 303.1,456.0 311.2,451.3 311.2,441.9" fill="none" stroke="#6a2090" stroke-width="1.35" stroke-linejoin="miter"/>
<polygon points="316.4,418.0 308.3,422.7 308.3,432.1 316.4,436.8 324.5,432.1 324.5,422.7" fill="none" stroke="#6a2090" stroke-width="1.35" stroke-linejoin="miter"/>
<polygon points="329.7,398.8 321.6,403.5 321.6,412.9 329.7,417.6 337.8,412.9 337.8,403.5" fill="none" stroke="#6a2090" stroke-width="1.35" stroke-linejoin="miter"/>
<polygon points="343.0,378.2 334.9,382.9 334.9,392.3 343.0,397.0 351.1,392.3 351.1,382.9" fill="none" stroke="#6a2090" stroke-width="1.35" stroke-linejoin="miter"/>
<polygon points="356.3,356.0 348.2,360.7 348.2,370.1 356.3,374.8 364.4,370.1 364.4,360.7" fill="none" stroke="#6a2090" stroke-width="1.35" stroke-linejoin="miter"/>
<polygon points="369.6,339.8 361.5,344.5 361.5,353.9 369.6,358.6 377.7,353.9 377.7,344.5" fill="none" stroke="#6a2090" stroke-width="1.35" stroke-linejoin="miter"/>
<polygon points="384.0,320.6 375.9,325.3 375.9,334.7 384.0,339.4 392.1,334.7 392.1,325.3" fill="none" stroke="#6a2090" stroke-width="1.35" stroke-linejoin="miter"/>
<polygon points="396.9,301.5 388.8,306.2 388.8,315.6 396.9,320.3 405.0,315.6 405.0,306.2" fill="none" stroke="#6a2090" stroke-width="1.35" stroke-linejoin="miter"/>
<polygon points="410.9,284.0 402.8,288.7 402.8,298.1 410.9,302.8 419.0,298.1 419.0,288.7" fill="none" stroke="#6a2090" stroke-width="1.35" stroke-linejoin="miter"/>
<polygon points="423.7,271.1 415.6,275.8 415.6,285.2 423.7,289.9 431.8,285.2 431.8,275.8" fill="none" stroke="#6a2090" stroke-width="1.35" stroke-linejoin="miter"/>
<polygon points="437.7,257.1 429.6,261.8 429.6,271.2 437.7,275.9 445.8,271.2 445.8,261.8" fill="none" stroke="#6a2090" stroke-width="1.35" stroke-linejoin="miter"/>
<polygon points="450.5,242.0 442.4,246.7 442.4,256.1 450.5,260.8 458.6,256.1 458.6,246.7" fill="none" stroke="#6a2090" stroke-width="1.35" stroke-linejoin="miter"/>
<polygon points="465.0,229.6 456.9,234.3 456.9,243.7 465.0,248.4 473.1,243.7 473.1,234.3" fill="none" stroke="#6a2090" stroke-width="1.35" stroke-linejoin="miter"/>
<polygon points="478.2,215.6 470.1,220.3 470.1,229.7 478.2,234.4 486.3,229.7 486.3,220.3" fill="none" stroke="#6a2090" stroke-width="1.35" stroke-linejoin="miter"/>
<polygon points="492.1,203.9 484.0,208.6 484.0,218.0 492.1,222.7 500.2,218.0 500.2,208.6" fill="none" stroke="#6a2090" stroke-width="1.35" stroke-linejoin="miter"/>
<polygon points="506.3,189.8 498.2,194.5 498.2,203.9 506.3,208.6 514.4,203.9 514.4,194.5" fill="none" stroke="#6a2090" stroke-width="1.35" stroke-linejoin="miter"/>
<polygon points="519.2,179.1 511.1,183.8 511.1,193.2 519.2,197.9 527.3,193.2 527.3,183.8" fill="none" stroke="#6a2090" stroke-width="1.35" stroke-linejoin="miter"/>
<polygon points="532.2,166.2 524.1,170.9 524.1,180.3 532.2,185.0 540.3,180.3 540.3,170.9" fill="none" stroke="#6a2090" stroke-width="1.35" stroke-linejoin="miter"/>
<polygon points="546.4,154.4 538.3,159.1 538.3,168.5 546.4,173.2 554.5,168.5 554.5,159.1" fill="none" stroke="#6a2090" stroke-width="1.35" stroke-linejoin="miter"/>
<polygon points="560.6,144.9 552.5,149.6 552.5,159.0 560.6,163.7 568.7,159.0 568.7,149.6" fill="none" stroke="#6a2090" stroke-width="1.35" stroke-linejoin="miter"/>
<polygon points="572.4,136.6 564.3,141.3 564.3,150.7 572.4,155.4 580.5,150.7 580.5,141.3" fill="none" stroke="#6a2090" stroke-width="1.35" stroke-linejoin="miter"/>
<polygon points="585.4,133.1 577.3,137.8 577.3,147.2 585.4,151.9 593.5,147.2 593.5,137.8" fill="none" stroke="#6a2090" stroke-width="1.35" stroke-linejoin="miter"/>
<polygon points="597.6,125.8 589.5,130.5 589.5,139.9 597.6,144.6 605.7,139.9 605.7,130.5" fill="none" stroke="#6a2090" stroke-width="1.35" stroke-linejoin="miter"/>
<polygon points="611.7,116.7 603.6,121.4 603.6,130.8 611.7,135.5 619.8,130.8 619.8,121.4" fill="none" stroke="#6a2090" stroke-width="1.35" stroke-linejoin="miter"/>
<polygon points="624.9,110.1 616.8,114.8 616.8,124.2 624.9,128.9 633.0,124.2 633.0,114.8" fill="none" stroke="#6a2090" stroke-width="1.35" stroke-linejoin="miter"/>
<polygon points="638.2,98.8 630.1,103.5 630.1,112.9 638.2,117.6 646.3,112.9 646.3,103.5" fill="none" stroke="#6a2090" stroke-width="1.35" stroke-linejoin="miter"/>
<polygon points="650.4,95.9 642.3,100.6 642.3,110.0 650.4,114.7 658.5,110.0 658.5,100.6" fill="none" stroke="#6a2090" stroke-width="1.35" stroke-linejoin="miter"/>
<polygon points="665.6,90.3 657.5,95.0 657.5,104.4 665.6,109.1 673.7,104.4 673.7,95.0" fill="none" stroke="#6a2090" stroke-width="1.35" stroke-linejoin="miter"/>
<polygon points="679.7,88.4 671.6,93.1 671.6,102.5 679.7,107.2 687.8,102.5 687.8,93.1" fill="none" stroke="#6a2090" stroke-width="1.35" stroke-linejoin="miter"/>
<polygon points="692.0,74.2 683.9,78.9 683.9,88.3 692.0,93.0 700.1,88.3 700.1,78.9" fill="none" stroke="#6a2090" stroke-width="1.35" stroke-linejoin="miter"/>
<polygon points="706.2,74.2 698.1,78.9 698.1,88.3 706.2,93.0 714.3,88.3 714.3,78.9" fill="none" stroke="#6a2090" stroke-width="1.35" stroke-linejoin="miter"/>
<polygon points="719.4,68.5 711.3,73.2 711.3,82.6 719.4,87.3 727.5,82.6 727.5,73.2" fill="none" stroke="#6a2090" stroke-width="1.35" stroke-linejoin="miter"/>
<polygon points="732.6,65.7 724.5,70.4 724.5,79.8 732.6,84.5 740.7,79.8 740.7,70.4" fill="none" stroke="#6a2090" stroke-width="1.35" stroke-linejoin="miter"/>
<polygon points="745.8,61.0 737.7,65.7 737.7,75.1 745.8,79.8 753.9,75.1 753.9,65.7" fill="none" stroke="#6a2090" stroke-width="1.35" stroke-linejoin="miter"/>
<polygon points="760.2,51.8 752.1,56.5 752.1,65.9 760.2,70.6 768.3,65.9 768.3,56.5" fill="none" stroke="#6a2090" stroke-width="1.35" stroke-linejoin="miter"/>
<polygon points="774.2,49.5 766.1,54.2 766.1,63.6 774.2,68.3 782.3,63.6 782.3,54.2" fill="none" stroke="#6a2090" stroke-width="1.35" stroke-linejoin="miter"/>
<polygon points="805.9,43.9 797.8,48.6 797.8,58.0 805.9,62.7 814.0,58.0 814.0,48.6" fill="none" stroke="#6a2090" stroke-width="1.35" stroke-linejoin="miter"/>
<path d="M101.44,546.68 L104.07,546.71 L106.71,546.76 L109.36,546.84 L112.03,546.93 L114.70,547.03 L117.39,547.15 L120.08,547.20 L122.79,547.20 L125.50,547.20 L128.22,547.20 L130.94,547.20 L133.67,547.20 L136.39,547.20 L139.13,547.20 L141.86,547.20 L144.59,547.20 L147.32,547.20 L150.05,547.20 L152.77,547.20 L155.50,547.20 L158.21,547.20 L160.92,547.20 L163.62,547.20 L166.31,547.20 L169.00,547.20 L171.67,547.20 L174.33,547.20 L176.98,547.20 L179.61,547.20 L182.23,547.20 L184.84,546.94 L187.42,546.51 L189.99,546.02 L192.54,545.47 L195.07,544.86 L197.58,544.19 L200.07,543.45 L202.53,542.65 L204.97,541.77 L207.38,540.82 L209.77,539.80 L212.13,538.70 L214.47,537.54 L216.78,536.30 L219.07,535.00 L221.33,533.64 L223.57,532.23 L225.78,530.75 L227.97,529.23 L230.13,527.66 L232.28,526.04 L234.40,524.38 L236.50,522.67 L238.58,520.94 L240.63,519.16 L242.67,517.36 L244.68,515.53 L246.68,513.67 L248.65,511.80 L250.61,509.90 L252.54,507.99 L254.46,506.07 L256.36,504.13 L258.24,502.18 L260.10,500.22 L261.94,498.24 L263.77,496.26 L265.58,494.26 L267.38,492.26 L269.16,490.24 L270.92,488.21 L272.67,486.17 L274.41,484.12 L276.13,482.06 L277.83,479.99 L279.53,477.92 L281.21,475.83 L282.87,473.74 L284.53,471.63 L286.17,469.52 L287.80,467.40 L289.42,465.27 L291.03,463.14 L292.63,461.00 L294.22,458.85 L295.80,456.69 L297.37,454.53 L298.93,452.36 L300.49,450.19 L302.03,448.01 L303.57,445.83 L305.10,443.64 L306.62,441.44 L308.14,439.24 L309.65,437.04 L311.15,434.83 L312.65,432.62 L314.15,430.41 L315.64,428.19 L317.12,425.97 L318.61,423.74 L320.09,421.52 L321.56,419.29 L323.03,417.06 L324.50,414.82 L325.97,412.59 L327.44,410.35 L328.91,408.12 L330.37,405.88 L331.84,403.64 L333.30,401.41 L334.77,399.17 L336.23,396.93 L337.70,394.69 L339.17,392.46 L340.64,390.22 L342.11,387.99 L343.59,385.76 L345.07,383.53 L346.55,381.30 L348.04,379.08 L349.53,376.85 L351.02,374.63 L352.53,372.42 L354.03,370.20 L355.54,368.00 L357.06,365.79 L358.58,363.59 L360.11,361.39 L361.65,359.19 L363.19,357.00 L364.74,354.82 L366.29,352.63 L367.85,350.46 L369.41,348.28 L370.98,346.11 L372.56,343.94 L374.14,341.78 L375.72,339.62 L377.32,337.47 L378.92,335.32 L380.52,333.17 L382.13,331.03 L383.75,328.89 L385.37,326.76 L387.00,324.63 L388.63,322.50 L390.27,320.38 L391.91,318.27 L393.56,316.15 L395.22,314.05 L396.88,311.94 L398.55,309.84 L400.22,307.75 L401.90,305.66 L403.59,303.58 L405.28,301.50 L406.97,299.42 L408.68,297.35 L410.38,295.29 L412.10,293.22 L413.82,291.17 L415.54,289.12 L417.27,287.07 L419.01,285.03 L420.75,282.99 L422.50,280.96 L424.25,278.93 L426.01,276.91 L427.77,274.89 L429.54,272.88 L431.32,270.88 L433.10,268.87 L434.89,266.88 L436.68,264.89 L438.48,262.90 L440.28,260.92 L442.09,258.94 L443.91,256.97 L445.73,255.01 L447.56,253.05 L449.39,251.10 L451.23,249.15 L453.07,247.21 L454.92,245.27 L456.78,243.34 L458.64,241.41 L460.51,239.50 L462.38,237.58 L464.26,235.68 L466.15,233.77 L468.04,231.88 L469.93,229.99 L471.84,228.11 L473.75,226.23 L475.66,224.36 L477.59,222.50 L479.51,220.64 L481.45,218.79 L483.39,216.95 L485.34,215.11 L487.29,213.28 L489.25,211.46 L491.22,209.64 L493.19,207.83 L495.17,206.03 L497.15,204.23 L499.14,202.45 L501.14,200.66 L503.14,198.89 L505.15,197.12 L507.17,195.36 L509.20,193.61 L511.23,191.87 L513.26,190.13 L515.31,188.40 L517.36,186.68 L519.41,184.96 L521.48,183.25 L523.55,181.56 L525.62,179.86 L527.71,178.18 L529.80,176.51 L531.89,174.84 L534.00,173.18 L536.11,171.53 L538.23,169.89 L540.35,168.25 L542.48,166.62 L544.62,165.01 L546.77,163.40 L548.92,161.80 L551.08,160.21 L553.25,158.63 L555.43,157.07 L557.61,155.52 L559.81,153.97 L562.01,152.45 L564.22,150.93 L566.44,149.43 L568.67,147.95 L570.91,146.48 L573.15,145.03 L575.41,143.59 L577.68,142.18 L579.96,140.77 L582.24,139.39 L584.54,138.03 L586.85,136.69 L589.17,135.36 L591.50,134.06 L593.84,132.78 L596.19,131.51 L598.56,130.27 L600.93,129.03 L603.30,127.82 L605.69,126.62 L608.08,125.43 L610.48,124.26 L612.89,123.09 L615.30,121.94 L617.72,120.79 L620.14,119.65 L622.56,118.52 L624.99,117.39 L627.42,116.27 L629.85,115.15 L632.29,114.04 L634.73,112.93 L637.17,111.83 L639.62,110.73 L642.06,109.63 L644.51,108.54 L646.97,107.46 L649.42,106.38 L651.88,105.31 L654.34,104.24 L656.80,103.18 L659.27,102.13 L661.74,101.08 L664.21,100.04 L666.69,99.00 L669.17,97.97 L671.65,96.95 L674.13,95.93 L676.62,94.93 L679.11,93.92 L681.60,92.93 L684.09,91.94 L686.59,90.96 L689.09,89.99 L691.59,89.02 L694.10,88.06 L696.61,87.11 L699.12,86.17 L701.64,85.24 L704.15,84.31 L706.67,83.39 L709.20,82.48 L711.72,81.58 L714.25,80.69 L716.78,79.81 L719.32,78.94 L721.85,78.07 L724.39,77.22 L726.94,76.37 L729.48,75.53 L732.03,74.71 L734.58,73.89 L737.14,73.08 L739.70,72.28 L742.26,71.50 L744.82,70.72 L747.38,69.95 L749.95,69.20 L752.53,68.45 L755.10,67.71 L757.68,66.99 L760.26,66.28 L762.84,65.57 L765.43,64.88 L768.02,64.20 L770.61,63.54 L773.20,62.88 L775.80,62.23 L778.40,61.60 L781.00,60.98 L783.61,60.37 L786.22,59.77 L788.83,59.19 L791.45,58.62 L794.07,58.06 L796.69,57.51 L799.31,56.98 L801.94,56.46 L804.57,55.95 L807.20,55.45 L809.83,54.97 L812.47,54.51 L815.11,54.05 L817.76,53.61 L820.41,53.18 L823.06,52.77 L825.71,52.37 L828.37,51.99 L831.02,51.62 L833.69,51.26 L836.35,50.92 L839.02,50.60" fill="none" stroke="#5e1a84" stroke-width="2.6" stroke-linejoin="round" stroke-linecap="round"/>
<path d="M101.40,547.20 L105.09,547.20 L108.77,547.20 L112.46,547.20 L116.15,547.20 L119.84,547.20 L123.52,547.20 L127.21,547.20 L130.90,547.19 L134.58,547.19 L138.27,547.19 L141.96,547.19 L145.64,547.18 L149.33,547.18 L153.02,547.17 L156.71,547.17 L160.39,547.16 L164.08,547.15 L167.77,547.14 L171.45,547.13 L175.14,547.12 L178.83,547.11 L182.51,547.09 L186.20,547.08 L189.89,547.06 L193.57,547.04 L197.26,547.02 L200.95,547.00 L204.64,546.98 L208.32,546.95 L212.01,546.92 L215.70,546.90 L219.38,546.87 L223.07,546.83 L226.76,546.80 L230.44,546.76 L234.13,546.72 L237.82,546.68 L241.51,546.64 L245.19,546.59 L248.88,546.55 L252.57,546.50 L256.25,546.44 L259.94,546.39 L263.63,546.33 L267.31,546.27 L271.00,546.21 L274.69,546.14 L278.38,546.07 L282.06,546.00 L285.75,545.92 L289.44,545.85 L293.12,545.76 L296.81,545.68 L300.50,545.59 L304.19,545.50 L307.87,545.41 L311.56,545.31 L315.25,545.21 L318.93,545.10 L322.62,544.99 L326.31,544.88 L329.99,544.77 L333.68,544.65 L337.37,544.52 L341.06,544.40 L344.74,544.27 L348.43,544.13 L352.12,543.99 L355.80,543.85 L359.49,543.70 L363.18,543.55 L366.86,543.39 L370.55,543.23 L374.24,543.06 L377.92,542.89 L381.61,542.72 L385.30,542.54 L388.99,542.36 L392.67,542.17 L396.36,541.97 L400.05,541.77 L403.73,541.57 L407.42,541.36 L411.11,541.15 L414.79,540.93 L418.48,540.71 L422.17,540.48 L425.86,540.24 L429.54,540.00 L433.23,539.76 L436.92,539.51 L440.60,539.25 L444.29,538.99 L447.98,538.72 L451.66,538.45 L455.35,538.17 L459.04,537.88 L462.73,537.59 L466.41,537.29 L470.10,536.99 L473.79,536.68 L477.47,536.37 L481.16,536.04 L484.85,535.72 L488.53,535.38 L492.22,535.04 L495.91,534.69 L499.60,534.34 L503.28,533.98 L506.97,533.61 L510.66,533.24 L514.34,532.86 L518.03,532.47 L521.72,532.08 L525.40,531.67 L529.09,531.27 L532.78,530.85 L536.47,530.43 L540.15,530.00 L543.84,529.56 L547.53,529.11 L551.21,528.66 L554.90,528.20 L558.59,527.74 L562.27,527.26 L565.96,526.78 L569.65,526.29 L573.34,525.79 L577.02,525.28 L580.71,524.77 L584.40,524.25 L588.08,523.72 L591.77,523.18 L595.46,522.64 L599.14,522.08 L602.83,521.52 L606.52,520.95 L610.21,520.37 L613.89,519.78 L617.58,519.19 L621.27,518.58 L624.95,517.97 L628.64,517.35 L632.33,516.72 L636.01,516.08 L639.70,515.43 L643.39,514.77 L647.08,514.11 L650.76,513.43 L654.45,512.75 L658.14,512.05 L661.82,511.35 L665.51,510.64 L669.20,509.91 L672.88,509.18 L676.57,508.44 L680.26,507.69 L683.95,506.93 L687.63,506.16 L691.32,505.38 L695.01,504.60 L698.69,503.80 L702.38,502.99 L706.07,502.17 L709.75,501.34 L713.44,500.50 L717.13,499.65 L720.82,498.79 L724.50,497.92 L728.19,497.04 L731.88,496.15 L735.56,495.25 L739.25,494.34 L742.94,493.42 L746.62,492.49 L750.31,491.54 L754.00,490.59 L757.69,489.63 L761.37,488.65 L765.06,487.66 L768.75,486.66 L772.43,485.66 L776.12,484.64 L779.81,483.60 L783.50,482.56 L787.18,481.51 L790.87,480.44 L794.56,479.37 L798.24,478.28 L801.93,477.18 L805.62,476.07 L809.30,474.94 L812.99,473.81 L816.68,472.66 L820.36,471.50 L824.05,470.33 L827.74,469.15 L831.43,467.96 L835.11,466.75 L838.80,465.53" fill="none" stroke="#000" stroke-width="4.2" stroke-dasharray="19 19" stroke-dashoffset="0"/>
</g>
<g stroke="#000" stroke-width="2" fill="none">
<rect x="92" y="2.2" width="747" height="555"/>
<line x1="101.4" y1="557.2" x2="101.4" y2="568.7"/>
<line x1="101.4" y1="2.2" x2="101.4" y2="13.7"/>
<line x1="193.6" y1="557.2" x2="193.6" y2="563.2"/>
<line x1="193.6" y1="2.2" x2="193.6" y2="8.2"/>
<line x1="285.8" y1="557.2" x2="285.8" y2="568.7"/>
<line x1="285.8" y1="2.2" x2="285.8" y2="13.7"/>
<line x1="377.9" y1="557.2" x2="377.9" y2="563.2"/>
<line x1="377.9" y1="2.2" x2="377.9" y2="8.2"/>
<line x1="470.1" y1="557.2" x2="470.1" y2="568.7"/>
<line x1="470.1" y1="2.2" x2="470.1" y2="13.7"/>
<line x1="562.3" y1="557.2" x2="562.3" y2="563.2"/>
<line x1="562.3" y1="2.2" x2="562.3" y2="8.2"/>
<line x1="654.4" y1="557.2" x2="654.4" y2="568.7"/>
<line x1="654.4" y1="2.2" x2="654.4" y2="13.7"/>
<line x1="746.6" y1="557.2" x2="746.6" y2="563.2"/>
<line x1="746.6" y1="2.2" x2="746.6" y2="8.2"/>
<line x1="838.8" y1="557.2" x2="838.8" y2="568.7"/>
<line x1="838.8" y1="2.2" x2="838.8" y2="13.7"/>
<line x1="80.5" y1="547.2" x2="92" y2="547.2"/>
<line x1="827.5" y1="547.2" x2="839" y2="547.2"/>
<line x1="86.0" y1="465.9" x2="92" y2="465.9"/>
<line x1="833.0" y1="465.9" x2="839" y2="465.9"/>
<line x1="80.5" y1="384.6" x2="92" y2="384.6"/>
<line x1="827.5" y1="384.6" x2="839" y2="384.6"/>
<line x1="86.0" y1="303.4" x2="92" y2="303.4"/>
<line x1="833.0" y1="303.4" x2="839" y2="303.4"/>
<line x1="80.5" y1="222.1" x2="92" y2="222.1"/>
<line x1="827.5" y1="222.1" x2="839" y2="222.1"/>
<line x1="86.0" y1="140.8" x2="92" y2="140.8"/>
<line x1="833.0" y1="140.8" x2="839" y2="140.8"/>
<line x1="80.5" y1="59.5" x2="92" y2="59.5"/>
<line x1="827.5" y1="59.5" x2="839" y2="59.5"/>
</g>
<text x="101.4" y="598.3" font-family="Liberation Sans, sans-serif" font-size="29" text-anchor="middle">0</text>
<text x="285.8" y="598.3" font-family="Liberation Sans, sans-serif" font-size="29" text-anchor="middle">1</text>
<text x="470.1" y="598.3" font-family="Liberation Sans, sans-serif" font-size="29" text-anchor="middle">2</text>
<text x="654.4" y="598.3" font-family="Liberation Sans, sans-serif" font-size="29" text-anchor="middle">3</text>
<text x="838.8" y="598.3" font-family="Liberation Sans, sans-serif" font-size="29" text-anchor="middle">4</text>
<text x="74.3" y="555.6" font-family="Liberation Sans, sans-serif" font-size="29.3" text-anchor="end">0</text>
<text x="74.3" y="393.0" font-family="Liberation Sans, sans-serif" font-size="29.3" text-anchor="end">20</text>
<text x="74.3" y="230.5" font-family="Liberation Sans, sans-serif" font-size="29.3" text-anchor="end">40</text>
<text x="74.3" y="67.9" font-family="Liberation Sans, sans-serif" font-size="29.3" text-anchor="end">60</text>
<text x="465.5" y="633.6" font-family="Liberation Sans, sans-serif" font-size="34.3" text-anchor="middle">Temperature (K)</text>
<text transform="translate(26.3,302.2) rotate(-90)" font-family="Liberation Sans, sans-serif" font-size="34" text-anchor="middle">Specific heat (J/K/mol)</text>
<text x="663.3" y="539.5" font-family="Liberation Sans, sans-serif" font-size="30.3" textLength="88.5" lengthAdjust="spacing">lattice,</text>
<path d="M783.5,526.3 C778,524.3 775.5,528 773.2,531.7 C771,535.5 769.5,538 767.6,538 C765,538 763.4,535 763.4,531.7 C763.4,528.4 765,525.4 767.6,525.4 C769.5,525.4 771,528 773.2,531.7 C775.5,535.5 778,539.1 783.5,537.1" fill="none" stroke="#000" stroke-width="1.7"/>
<text x="786" y="539.5" font-family="Liberation Sans, sans-serif" font-size="32.5" font-style="italic">T</text>
<text x="804" y="524.5" font-family="Liberation Sans, sans-serif" font-size="17.5">3</text>
<rect x="135.0" y="23.4" width="14.0" height="14.0" fill="none" stroke="#000" stroke-width="1.35"/>
<text x="182.3" y="40.0" font-family="Liberation Sans, sans-serif" font-size="28.8">0 T</text>
<circle cx="142.6" cy="62.7" r="8.0" fill="none" stroke="#e81e1e" stroke-width="1.35"/>
<text x="182.3" y="72.3" font-family="Liberation Sans, sans-serif" font-size="28.8">0.1 T</text>
<polygon points="143.6,83.3 153.2,99.8 134.0,99.8" fill="none" stroke="#2eb42e" stroke-width="1.35" stroke-linejoin="miter"/>
<text x="182.3" y="104.2" font-family="Liberation Sans, sans-serif" font-size="28.8">0.2 T</text>
<polygon points="316.2,41.6 325.8,25.1 306.6,25.1" fill="none" stroke="#2232aa" stroke-width="1.35" stroke-linejoin="miter"/>
<text x="356.3" y="40.0" font-family="Liberation Sans, sans-serif" font-size="28.8">0.5 T</text>
<polygon points="317.3,51.9 327.9,62.5 317.3,73.1 306.7,62.5" fill="none" stroke="#0a7878" stroke-width="1.35" stroke-linejoin="miter"/>
<text x="356.3" y="72.0" font-family="Liberation Sans, sans-serif" font-size="28.8">0.75 T</text>
<polygon points="306.7,94.5 323.7,84.9 323.7,104.1" fill="none" stroke="#a0209a" stroke-width="1.35" stroke-linejoin="miter"/>
<text x="356.3" y="104.0" font-family="Liberation Sans, sans-serif" font-size="28.8">1 T</text>
<polygon points="520.8,29.2 503.8,19.6 503.8,38.8" fill="none" stroke="#6e7818" stroke-width="1.35" stroke-linejoin="miter"/>
<text x="549.3" y="39.2" font-family="Liberation Sans, sans-serif" font-size="28.8">2 T</text>
<polygon points="511.0,49.7 502.9,54.4 502.9,63.8 511.0,68.5 519.1,63.8 519.1,54.4" fill="none" stroke="#6a2090" stroke-width="1.35" stroke-linejoin="miter"/>
<text x="549.3" y="69.2" font-family="Liberation Sans, sans-serif" font-size="28.8">4 T</text>
</svg></body></html>
